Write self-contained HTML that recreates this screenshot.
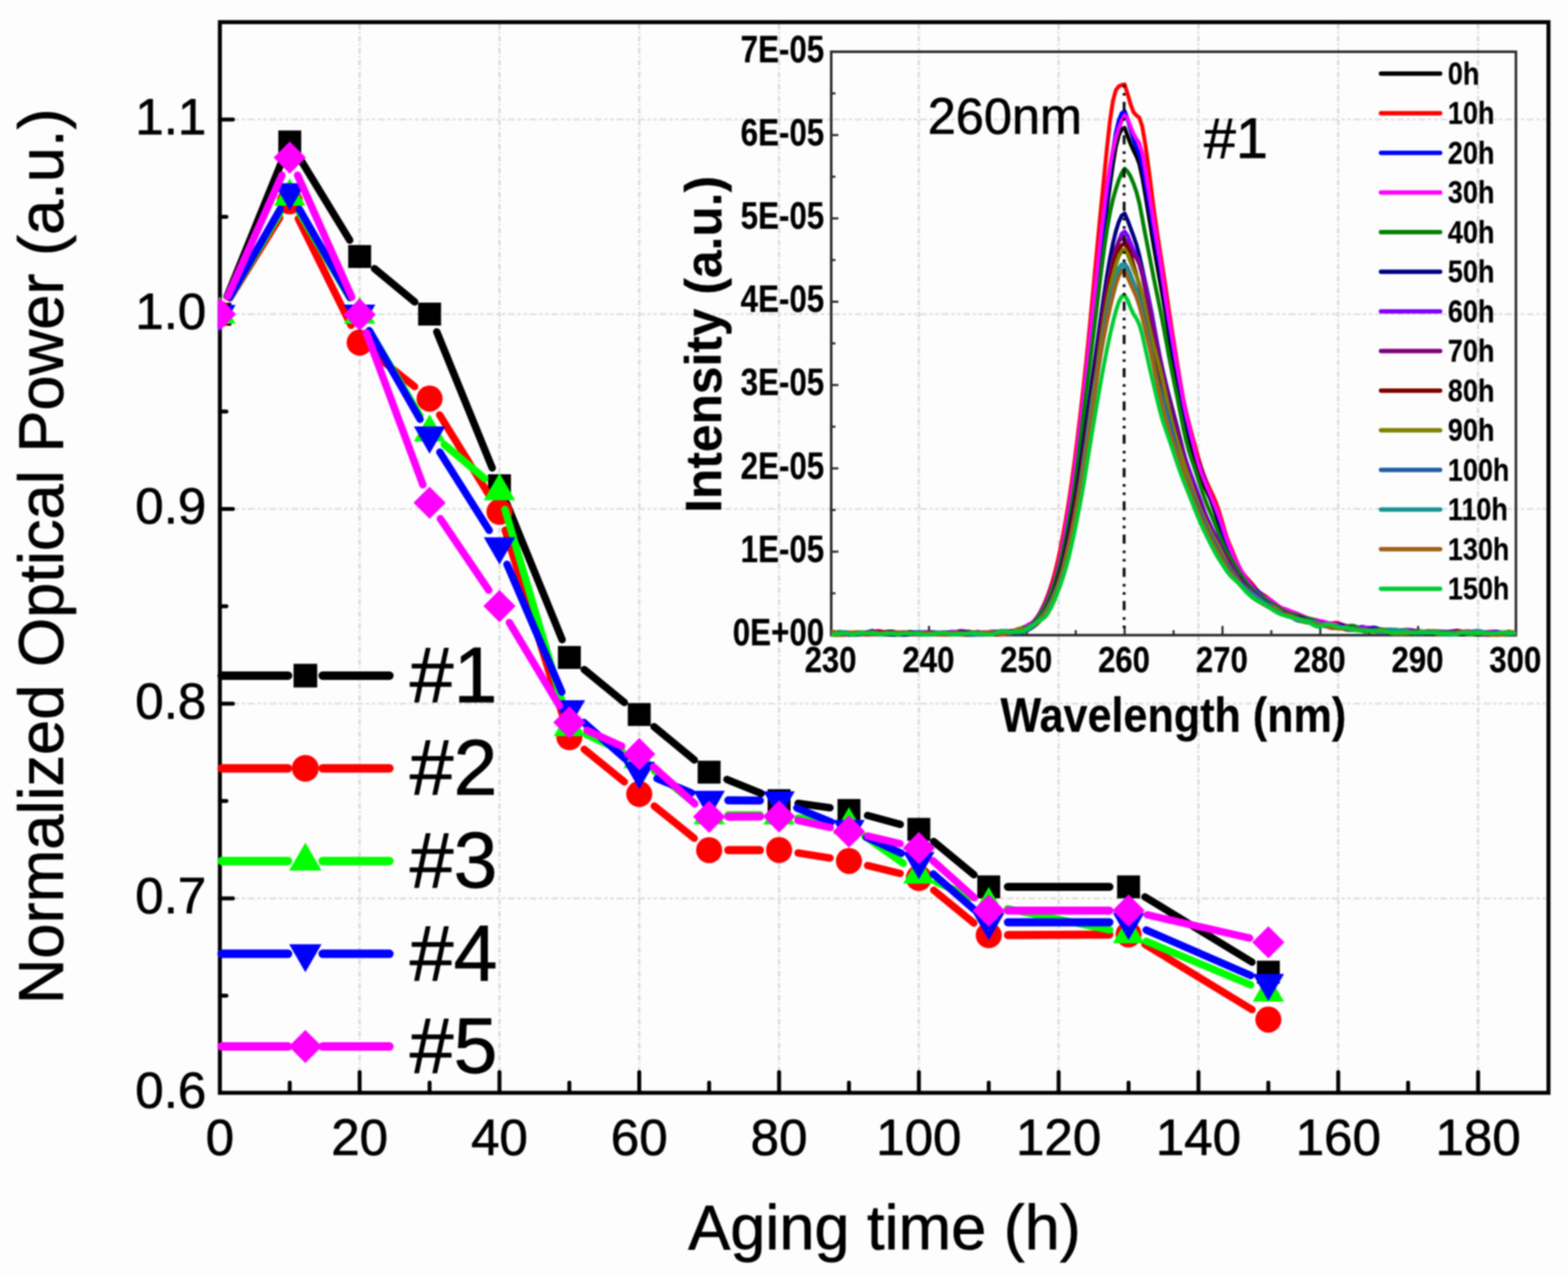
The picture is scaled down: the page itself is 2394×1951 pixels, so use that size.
<!DOCTYPE html>
<html lang="en">
<head>
<meta charset="utf-8">
<title>Normalized Optical Power vs Aging time</title>
<style>
html,body{margin:0;padding:0;background:#fdfdfd;}
body{width:2394px;height:1951px;overflow:hidden;}
svg{display:block;filter:blur(0.85px);}
text{font-kerning:normal;stroke:#000;stroke-width:1px;stroke-linejoin:round;}
.ins text{stroke-width:0.35px;}
.ins text.reg{stroke-width:1px;}
</style>
</head>
<body>
<svg width="2394" height="1951" viewBox="0 0 2394 1951" role="img" aria-label="Normalized optical power versus aging time">
<rect x="0" y="0" width="2394" height="1951" fill="#fdfdfd"/>
<g fill="none">
<line x1="549.1" y1="36.6" x2="549.1" y2="1668.3" stroke="#dadada" stroke-width="3.4" stroke-dasharray="8.5 3.4 2.4 4"/>
<line x1="762.6" y1="36.6" x2="762.6" y2="1668.3" stroke="#dadada" stroke-width="3.4" stroke-dasharray="8.5 3.4 2.4 4"/>
<line x1="976.0" y1="36.6" x2="976.0" y2="1668.3" stroke="#dadada" stroke-width="3.4" stroke-dasharray="8.5 3.4 2.4 4"/>
<line x1="1189.5" y1="36.6" x2="1189.5" y2="1668.3" stroke="#dadada" stroke-width="3.4" stroke-dasharray="8.5 3.4 2.4 4"/>
<line x1="1402.9" y1="36.6" x2="1402.9" y2="1668.3" stroke="#dadada" stroke-width="3.4" stroke-dasharray="8.5 3.4 2.4 4"/>
<line x1="1616.3" y1="36.6" x2="1616.3" y2="1668.3" stroke="#dadada" stroke-width="3.4" stroke-dasharray="8.5 3.4 2.4 4"/>
<line x1="1829.8" y1="36.6" x2="1829.8" y2="1668.3" stroke="#dadada" stroke-width="3.4" stroke-dasharray="8.5 3.4 2.4 4"/>
<line x1="2043.2" y1="36.6" x2="2043.2" y2="1668.3" stroke="#dadada" stroke-width="3.4" stroke-dasharray="8.5 3.4 2.4 4"/>
<line x1="2256.7" y1="36.6" x2="2256.7" y2="1668.3" stroke="#dadada" stroke-width="3.4" stroke-dasharray="8.5 3.4 2.4 4"/>
<line x1="345.2" y1="1371.5" x2="2364.2" y2="1371.5" stroke="#dedede" stroke-width="2.8" stroke-dasharray="10.5 4.2 5 4.2 5 4.2"/>
<line x1="345.2" y1="1074.2" x2="2364.2" y2="1074.2" stroke="#dedede" stroke-width="2.8" stroke-dasharray="10.5 4.2 5 4.2 5 4.2"/>
<line x1="345.2" y1="776.9" x2="2364.2" y2="776.9" stroke="#dedede" stroke-width="2.8" stroke-dasharray="10.5 4.2 5 4.2 5 4.2"/>
<line x1="345.2" y1="479.7" x2="2364.2" y2="479.7" stroke="#dedede" stroke-width="2.8" stroke-dasharray="10.5 4.2 5 4.2 5 4.2"/>
<line x1="345.2" y1="182.4" x2="2364.2" y2="182.4" stroke="#dedede" stroke-width="2.8" stroke-dasharray="10.5 4.2 5 4.2 5 4.2"/>
</g>
<rect x="335.7" y="33.8" width="2028.5" height="1634.5" fill="none" stroke="#000" stroke-width="6.1"/>
<g stroke="#000" stroke-width="6" stroke-linecap="round" fill="none">
<line x1="442.4" y1="1668.3" x2="442.4" y2="1652.8"/>
<line x1="549.1" y1="1668.3" x2="549.1" y2="1636.8"/>
<line x1="655.9" y1="1668.3" x2="655.9" y2="1652.8"/>
<line x1="762.6" y1="1668.3" x2="762.6" y2="1636.8"/>
<line x1="869.3" y1="1668.3" x2="869.3" y2="1652.8"/>
<line x1="976.0" y1="1668.3" x2="976.0" y2="1636.8"/>
<line x1="1082.7" y1="1668.3" x2="1082.7" y2="1652.8"/>
<line x1="1189.5" y1="1668.3" x2="1189.5" y2="1636.8"/>
<line x1="1296.2" y1="1668.3" x2="1296.2" y2="1652.8"/>
<line x1="1402.9" y1="1668.3" x2="1402.9" y2="1636.8"/>
<line x1="1509.6" y1="1668.3" x2="1509.6" y2="1652.8"/>
<line x1="1616.3" y1="1668.3" x2="1616.3" y2="1636.8"/>
<line x1="1723.1" y1="1668.3" x2="1723.1" y2="1652.8"/>
<line x1="1829.8" y1="1668.3" x2="1829.8" y2="1636.8"/>
<line x1="1936.5" y1="1668.3" x2="1936.5" y2="1652.8"/>
<line x1="2043.2" y1="1668.3" x2="2043.2" y2="1636.8"/>
<line x1="2149.9" y1="1668.3" x2="2149.9" y2="1652.8"/>
<line x1="2256.7" y1="1668.3" x2="2256.7" y2="1636.8"/>
<line x1="335.7" y1="1520.1" x2="345.7" y2="1520.1"/>
<line x1="335.7" y1="1371.5" x2="355.7" y2="1371.5"/>
<line x1="335.7" y1="1222.8" x2="345.7" y2="1222.8"/>
<line x1="335.7" y1="1074.2" x2="355.7" y2="1074.2"/>
<line x1="335.7" y1="925.6" x2="345.7" y2="925.6"/>
<line x1="335.7" y1="776.9" x2="355.7" y2="776.9"/>
<line x1="335.7" y1="628.3" x2="345.7" y2="628.3"/>
<line x1="335.7" y1="479.7" x2="355.7" y2="479.7"/>
<line x1="335.7" y1="331.1" x2="345.7" y2="331.1"/>
<line x1="335.7" y1="182.4" x2="355.7" y2="182.4"/>
</g>
<g font-family='"Liberation Sans", Arial, Helvetica, sans-serif' font-size="78" fill="#000">
<text x="335.7" y="1763" text-anchor="middle">0</text>
<text x="549.1" y="1763" text-anchor="middle">20</text>
<text x="762.6" y="1763" text-anchor="middle">40</text>
<text x="976.0" y="1763" text-anchor="middle">60</text>
<text x="1189.5" y="1763" text-anchor="middle">80</text>
<text x="1402.9" y="1763" text-anchor="middle">100</text>
<text x="1616.3" y="1763" text-anchor="middle">120</text>
<text x="1829.8" y="1763" text-anchor="middle">140</text>
<text x="2043.2" y="1763" text-anchor="middle">160</text>
<text x="2256.7" y="1763" text-anchor="middle">180</text>
<text x="315" y="1691.2" text-anchor="end">0.6</text>
<text x="315" y="1394.0" text-anchor="end">0.7</text>
<text x="315" y="1096.7" text-anchor="end">0.8</text>
<text x="315" y="799.4" text-anchor="end">0.9</text>
<text x="315" y="502.2" text-anchor="end">1.0</text>
<text x="315" y="204.9" text-anchor="end">1.1</text>
</g>
<text x="1350.5" y="1907" font-family='"Liberation Sans", Arial, Helvetica, sans-serif' font-size="96.3" text-anchor="middle" fill="#000">Aging time (h)</text>
<text transform="translate(95.9 849.3) rotate(-90)" font-family='"Liberation Sans", Arial, Helvetica, sans-serif' font-size="96.5" text-anchor="middle" fill="#000">Normalized Optical Power (a.u.)</text>
<clipPath id="pc"><rect x="332.4" y="33.8" width="2035.1" height="1634.5"/></clipPath>
<g clip-path="url(#pc)">
<g stroke="#000000" stroke-width="11.3" stroke-linecap="round" fill="none">
<line x1="346.7" y1="452.6" x2="431.4" y2="243.8"/>
<line x1="457.7" y1="241.7" x2="533.9" y2="366.6"/>
<line x1="571.8" y1="410.2" x2="633.2" y2="460.9"/>
<line x1="666.9" y1="506.6" x2="751.5" y2="714.4"/>
<line x1="773.6" y1="768.6" x2="858.3" y2="976.6"/>
<line x1="892.0" y1="1022.2" x2="953.3" y2="1072.3"/>
<line x1="998.6" y1="1109.4" x2="1060.1" y2="1160.2"/>
<line x1="1109.9" y1="1189.9" x2="1162.3" y2="1211.2"/>
<line x1="1218.5" y1="1226.4" x2="1267.2" y2="1233.2"/>
<line x1="1324.5" y1="1244.9" x2="1374.6" y2="1258.5"/>
<line x1="1425.5" y1="1284.7" x2="1487.0" y2="1335.3"/>
<line x1="1538.9" y1="1353.9" x2="1693.8" y2="1353.9" stroke-width="12.4"/>
<line x1="1748.1" y1="1369.2" x2="1911.5" y2="1468.8"/>
</g>
<rect x="318.2" y="462.2" width="35.0" height="35.0" fill="#000000"/>
<rect x="424.9" y="199.2" width="35.0" height="35.0" fill="#000000"/>
<rect x="531.6" y="374.1" width="35.0" height="35.0" fill="#000000"/>
<rect x="638.4" y="462.0" width="35.0" height="35.0" fill="#000000"/>
<rect x="745.1" y="724.0" width="35.0" height="35.0" fill="#000000"/>
<rect x="851.8" y="986.2" width="35.0" height="35.0" fill="#000000"/>
<rect x="958.5" y="1073.3" width="35.0" height="35.0" fill="#000000"/>
<rect x="1065.2" y="1161.3" width="35.0" height="35.0" fill="#000000"/>
<rect x="1172.0" y="1204.8" width="35.0" height="35.0" fill="#000000"/>
<rect x="1278.7" y="1219.8" width="35.0" height="35.0" fill="#000000"/>
<rect x="1385.4" y="1248.6" width="35.0" height="35.0" fill="#000000"/>
<rect x="1492.1" y="1336.4" width="35.0" height="35.0" fill="#000000"/>
<rect x="1705.6" y="1336.4" width="35.0" height="35.0" fill="#000000"/>
<rect x="1919.0" y="1466.6" width="35.0" height="35.0" fill="#000000"/>
<g stroke="#ff0000" stroke-width="11.3" stroke-linecap="round" fill="none">
<line x1="351.1" y1="454.8" x2="427.0" y2="332.3"/>
<line x1="455.4" y1="333.7" x2="536.1" y2="496.7"/>
<line x1="572.0" y1="541.3" x2="633.0" y2="590.2"/>
<line x1="671.2" y1="633.4" x2="747.2" y2="756.5"/>
<line x1="771.3" y1="809.4" x2="860.6" y2="1097.4"/>
<line x1="892.0" y1="1143.9" x2="953.3" y2="1193.7"/>
<line x1="998.9" y1="1230.5" x2="1059.9" y2="1279.6"/>
<line x1="1112.0" y1="1297.8" x2="1160.2" y2="1297.8" stroke-width="12.4"/>
<line x1="1218.4" y1="1302.2" x2="1267.2" y2="1309.8"/>
<line x1="1324.6" y1="1321.3" x2="1374.4" y2="1333.4"/>
<line x1="1425.6" y1="1359.0" x2="1486.9" y2="1409.1"/>
<line x1="1538.9" y1="1427.5" x2="1693.8" y2="1426.7" stroke-width="12.4"/>
<line x1="1748.1" y1="1441.7" x2="1911.5" y2="1541.3"/>
</g>
<circle cx="335.7" cy="479.7" r="19.9" fill="#ff0000"/>
<circle cx="442.4" cy="307.4" r="19.9" fill="#ff0000"/>
<circle cx="549.1" cy="523.0" r="19.9" fill="#ff0000"/>
<circle cx="655.9" cy="608.5" r="19.9" fill="#ff0000"/>
<circle cx="762.6" cy="781.4" r="19.9" fill="#ff0000"/>
<circle cx="869.3" cy="1125.4" r="19.9" fill="#ff0000"/>
<circle cx="976.0" cy="1212.2" r="19.9" fill="#ff0000"/>
<circle cx="1082.7" cy="1297.9" r="19.9" fill="#ff0000"/>
<circle cx="1189.5" cy="1297.7" r="19.9" fill="#ff0000"/>
<circle cx="1296.2" cy="1314.3" r="19.9" fill="#ff0000"/>
<circle cx="1402.9" cy="1340.4" r="19.9" fill="#ff0000"/>
<circle cx="1509.6" cy="1427.7" r="19.9" fill="#ff0000"/>
<circle cx="1723.1" cy="1426.5" r="19.9" fill="#ff0000"/>
<circle cx="1936.5" cy="1556.5" r="19.9" fill="#ff0000"/>
<g stroke="#00ff00" stroke-width="11.3" stroke-linecap="round" fill="none">
<line x1="350.6" y1="454.5" x2="427.5" y2="324.9"/>
<line x1="457.3" y1="324.9" x2="534.2" y2="454.8"/>
<line x1="564.1" y1="505.2" x2="640.9" y2="634.5"/>
<line x1="678.3" y1="678.6" x2="740.2" y2="730.6"/>
<line x1="770.9" y1="777.6" x2="861.0" y2="1081.4"/>
<line x1="895.9" y1="1121.7" x2="949.4" y2="1146.3"/>
<line x1="998.9" y1="1176.9" x2="1059.9" y2="1225.9"/>
<line x1="1112.0" y1="1244.4" x2="1160.2" y2="1244.4" stroke-width="12.4"/>
<line x1="1218.5" y1="1248.6" x2="1267.2" y2="1255.4"/>
<line x1="1320.1" y1="1276.4" x2="1379.0" y2="1317.9"/>
<line x1="1429.8" y1="1346.5" x2="1482.8" y2="1369.7"/>
<line x1="1538.3" y1="1387.3" x2="1694.4" y2="1419.7"/>
<line x1="1750.1" y1="1436.9" x2="1909.5" y2="1503.5"/>
</g>
<polygon points="335.7,452.4 359.7,494.0 311.7,494.0" fill="#00ff00"/>
<polygon points="442.4,272.4 466.4,314.0 418.4,314.0" fill="#00ff00"/>
<polygon points="549.1,452.7 573.1,494.3 525.1,494.3" fill="#00ff00"/>
<polygon points="655.9,632.4 679.9,674.0 631.9,674.0" fill="#00ff00"/>
<polygon points="762.6,722.2 786.6,763.8 738.6,763.8" fill="#00ff00"/>
<polygon points="869.3,1082.2 893.3,1123.8 845.3,1123.8" fill="#00ff00"/>
<polygon points="976.0,1131.2 1000.0,1172.8 952.0,1172.8" fill="#00ff00"/>
<polygon points="1082.7,1217.0 1106.7,1258.6 1058.7,1258.6" fill="#00ff00"/>
<polygon points="1189.5,1217.2 1213.5,1258.8 1165.5,1258.8" fill="#00ff00"/>
<polygon points="1296.2,1232.2 1320.2,1273.8 1272.2,1273.8" fill="#00ff00"/>
<polygon points="1402.9,1307.5 1426.9,1349.1 1378.9,1349.1" fill="#00ff00"/>
<polygon points="1509.6,1354.1 1533.6,1395.7 1485.6,1395.7" fill="#00ff00"/>
<polygon points="1723.1,1398.3 1747.1,1439.9 1699.1,1439.9" fill="#00ff00"/>
<polygon points="1936.5,1487.5 1960.5,1529.1 1912.5,1529.1" fill="#00ff00"/>
<g stroke="#0000ff" stroke-width="11.3" stroke-linecap="round" fill="none">
<line x1="350.3" y1="454.3" x2="427.8" y2="319.4"/>
<line x1="457.0" y1="319.4" x2="534.5" y2="453.9"/>
<line x1="563.7" y1="504.7" x2="641.3" y2="640.0"/>
<line x1="671.5" y1="690.2" x2="746.9" y2="809.7"/>
<line x1="774.1" y1="861.4" x2="857.8" y2="1056.5"/>
<line x1="891.3" y1="1102.8" x2="954.0" y2="1158.0"/>
<line x1="1003.1" y1="1188.6" x2="1055.7" y2="1210.4"/>
<line x1="1112.0" y1="1221.8" x2="1160.2" y2="1222.1" stroke-width="12.4"/>
<line x1="1216.6" y1="1233.4" x2="1269.1" y2="1254.9"/>
<line x1="1322.8" y1="1278.2" x2="1376.3" y2="1302.7"/>
<line x1="1425.0" y1="1334.2" x2="1487.5" y2="1388.7"/>
<line x1="1538.9" y1="1408.0" x2="1693.8" y2="1408.0" stroke-width="12.4"/>
<line x1="1749.9" y1="1419.7" x2="1909.6" y2="1489.3"/>
</g>
<polygon points="335.7,507.0 359.7,465.4 311.7,465.4" fill="#0000ff"/>
<polygon points="442.4,321.3 466.4,279.7 418.4,279.7" fill="#0000ff"/>
<polygon points="549.1,506.6 573.1,465.0 525.1,465.0" fill="#0000ff"/>
<polygon points="655.9,692.7 679.9,651.1 631.9,651.1" fill="#0000ff"/>
<polygon points="762.6,861.8 786.6,820.2 738.6,820.2" fill="#0000ff"/>
<polygon points="869.3,1110.7 893.3,1069.1 845.3,1069.1" fill="#0000ff"/>
<polygon points="976.0,1204.7 1000.0,1163.1 952.0,1163.1" fill="#0000ff"/>
<polygon points="1082.7,1248.9 1106.7,1207.3 1058.7,1207.3" fill="#0000ff"/>
<polygon points="1189.5,1249.6 1213.5,1208.0 1165.5,1208.0" fill="#0000ff"/>
<polygon points="1296.2,1293.3 1320.2,1251.7 1272.2,1251.7" fill="#0000ff"/>
<polygon points="1402.9,1342.2 1426.9,1300.6 1378.9,1300.6" fill="#0000ff"/>
<polygon points="1509.6,1435.3 1533.6,1393.7 1485.6,1393.7" fill="#0000ff"/>
<polygon points="1723.1,1435.3 1747.1,1393.7 1699.1,1393.7" fill="#0000ff"/>
<polygon points="1936.5,1528.3 1960.5,1486.7 1912.5,1486.7" fill="#0000ff"/>
<g stroke="#ff00ff" stroke-width="11.3" stroke-linecap="round" fill="none">
<line x1="347.6" y1="452.9" x2="430.5" y2="267.4"/>
<line x1="454.3" y1="267.4" x2="537.2" y2="453.5"/>
<line x1="559.3" y1="507.8" x2="645.7" y2="740.0"/>
<line x1="672.3" y1="791.8" x2="746.2" y2="901.0"/>
<line x1="777.7" y1="950.4" x2="854.2" y2="1077.7"/>
<line x1="896.0" y1="1114.9" x2="949.3" y2="1139.1"/>
<line x1="997.8" y1="1170.7" x2="1060.9" y2="1227.3"/>
<line x1="1112.0" y1="1246.7" x2="1160.2" y2="1246.4" stroke-width="12.4"/>
<line x1="1218.1" y1="1252.5" x2="1267.5" y2="1263.2"/>
<line x1="1324.7" y1="1276.2" x2="1374.4" y2="1287.9"/>
<line x1="1424.7" y1="1314.2" x2="1487.8" y2="1370.6"/>
<line x1="1538.9" y1="1390.1" x2="1693.8" y2="1390.1" stroke-width="12.4"/>
<line x1="1751.6" y1="1396.6" x2="1907.9" y2="1432.0"/>
</g>
<polygon points="335.7,455.1 360.3,479.7 335.7,504.3 311.1,479.7" fill="#ff00ff"/>
<polygon points="442.4,216.0 467.0,240.6 442.4,265.2 417.8,240.6" fill="#ff00ff"/>
<polygon points="549.1,455.7 573.7,480.3 549.1,504.9 524.5,480.3" fill="#ff00ff"/>
<polygon points="655.9,742.9 680.5,767.5 655.9,792.1 631.3,767.5" fill="#ff00ff"/>
<polygon points="762.6,900.7 787.2,925.3 762.6,949.9 738.0,925.3" fill="#ff00ff"/>
<polygon points="869.3,1078.2 893.9,1102.8 869.3,1127.4 844.7,1102.8" fill="#ff00ff"/>
<polygon points="976.0,1126.6 1000.6,1151.2 976.0,1175.8 951.4,1151.2" fill="#ff00ff"/>
<polygon points="1082.7,1222.2 1107.3,1246.8 1082.7,1271.4 1058.1,1246.8" fill="#ff00ff"/>
<polygon points="1189.5,1221.7 1214.1,1246.3 1189.5,1270.9 1164.9,1246.3" fill="#ff00ff"/>
<polygon points="1296.2,1244.8 1320.8,1269.4 1296.2,1294.0 1271.6,1269.4" fill="#ff00ff"/>
<polygon points="1402.9,1270.1 1427.5,1294.7 1402.9,1319.3 1378.3,1294.7" fill="#ff00ff"/>
<polygon points="1509.6,1365.5 1534.2,1390.1 1509.6,1414.7 1485.0,1390.1" fill="#ff00ff"/>
<polygon points="1723.1,1365.5 1747.7,1390.1 1723.1,1414.7 1698.5,1390.1" fill="#ff00ff"/>
<polygon points="1936.5,1413.9 1961.1,1438.5 1936.5,1463.1 1911.9,1438.5" fill="#ff00ff"/>
</g>
<g font-family='"Liberation Sans", Arial, Helvetica, sans-serif' font-size="120.5" fill="#000">
<g stroke="#000000" stroke-width="13" stroke-linecap="round"><line x1="338.5" y1="1031.4" x2="439.7" y2="1031.4"/><line x1="492.7" y1="1031.4" x2="594.5" y2="1031.4"/></g>
<rect x="448.2" y="1013.4" width="36.1" height="36.1" fill="#000000"/>
<text x="625.5" y="1071.8">#1</text>
<g stroke="#ff0000" stroke-width="13" stroke-linecap="round"><line x1="338.5" y1="1172.9" x2="439.7" y2="1172.9"/><line x1="492.7" y1="1172.9" x2="594.5" y2="1172.9"/></g>
<circle cx="466.2" cy="1172.9" r="20.5" fill="#ff0000"/>
<text x="625.5" y="1213.3">#2</text>
<g stroke="#00ff00" stroke-width="13" stroke-linecap="round"><line x1="338.5" y1="1314.4" x2="439.7" y2="1314.4"/><line x1="492.7" y1="1314.4" x2="594.5" y2="1314.4"/></g>
<polygon points="466.2,1286.3 490.9,1329.1 441.5,1329.1" fill="#00ff00"/>
<text x="625.5" y="1354.8">#3</text>
<g stroke="#0000ff" stroke-width="13" stroke-linecap="round"><line x1="338.5" y1="1456.1" x2="439.7" y2="1456.1"/><line x1="492.7" y1="1456.1" x2="594.5" y2="1456.1"/></g>
<polygon points="466.2,1484.2 490.9,1441.4 441.5,1441.4" fill="#0000ff"/>
<text x="625.5" y="1496.5">#4</text>
<g stroke="#ff00ff" stroke-width="13" stroke-linecap="round"><line x1="338.5" y1="1597.6" x2="439.7" y2="1597.6"/><line x1="492.7" y1="1597.6" x2="594.5" y2="1597.6"/></g>
<polygon points="466.2,1572.3 491.5,1597.6 466.2,1622.9 440.9,1597.6" fill="#ff00ff"/>
<text x="625.5" y="1638.0">#5</text>
</g>
<rect x="1269.1" y="79.0" width="1045.4" height="890.6" fill="none" stroke="#2b2b2b" stroke-width="3.9"/>
<g stroke="#2b2b2b" stroke-width="3.2" fill="none">
<line x1="1269.1" y1="905.8" x2="1275.6" y2="905.8"/>
<line x1="1269.1" y1="842.2" x2="1280.1" y2="842.2"/>
<line x1="1269.1" y1="778.6" x2="1275.6" y2="778.6"/>
<line x1="1269.1" y1="715.0" x2="1280.1" y2="715.0"/>
<line x1="1269.1" y1="651.4" x2="1275.6" y2="651.4"/>
<line x1="1269.1" y1="587.8" x2="1280.1" y2="587.8"/>
<line x1="1269.1" y1="524.2" x2="1275.6" y2="524.2"/>
<line x1="1269.1" y1="460.6" x2="1280.1" y2="460.6"/>
<line x1="1269.1" y1="397.0" x2="1275.6" y2="397.0"/>
<line x1="1269.1" y1="333.4" x2="1280.1" y2="333.4"/>
<line x1="1269.1" y1="269.8" x2="1275.6" y2="269.8"/>
<line x1="1269.1" y1="206.2" x2="1280.1" y2="206.2"/>
<line x1="1269.1" y1="142.6" x2="1275.6" y2="142.6"/>
<line x1="1343.8" y1="969.6" x2="1343.8" y2="962.1"/>
<line x1="1418.4" y1="969.6" x2="1418.4" y2="955.6"/>
<line x1="1493.1" y1="969.6" x2="1493.1" y2="962.1"/>
<line x1="1567.8" y1="969.6" x2="1567.8" y2="955.6"/>
<line x1="1642.5" y1="969.6" x2="1642.5" y2="962.1"/>
<line x1="1717.1" y1="969.6" x2="1717.1" y2="955.6"/>
<line x1="1791.8" y1="969.6" x2="1791.8" y2="962.1"/>
<line x1="1866.5" y1="969.6" x2="1866.5" y2="955.6"/>
<line x1="1941.1" y1="969.6" x2="1941.1" y2="962.1"/>
<line x1="2015.8" y1="969.6" x2="2015.8" y2="955.6"/>
<line x1="2090.5" y1="969.6" x2="2090.5" y2="962.1"/>
<line x1="2165.2" y1="969.6" x2="2165.2" y2="955.6"/>
<line x1="2239.8" y1="969.6" x2="2239.8" y2="962.1"/>
</g>
<clipPath id="ic"><rect x="1269.1" y="79.0" width="1045.4" height="893.6"/></clipPath>
<g clip-path="url(#ic)" fill="none" stroke-width="6" stroke-linejoin="round" stroke-linecap="round">
<polyline stroke="#000000" points="1269.1,967.8 1273.6,969.4 1278.1,969.4 1282.5,969.4 1287.0,969.4 1291.5,969.1 1296.0,967.0 1300.5,967.0 1304.9,968.0 1309.4,967.7 1313.9,966.6 1318.4,966.1 1322.9,966.5 1327.3,966.6 1331.8,966.2 1336.3,965.7 1340.8,965.9 1345.3,966.7 1349.7,967.3 1354.2,967.3 1358.7,966.9 1363.2,967.1 1367.7,967.5 1372.1,967.9 1376.6,967.8 1381.1,966.6 1385.6,965.3 1390.1,964.8 1394.5,965.3 1399.0,966.5 1403.5,967.8 1408.0,968.6 1412.5,968.3 1416.9,967.5 1421.4,967.6 1425.9,968.0 1430.4,967.7 1434.9,966.6 1439.4,965.7 1443.8,965.4 1448.3,965.5 1452.8,965.9 1457.3,967.0 1461.8,968.1 1466.2,967.6 1470.7,965.9 1475.2,964.5 1479.7,964.5 1484.2,965.3 1488.6,966.0 1493.1,966.6 1497.6,967.0 1502.1,966.7 1506.6,965.7 1511.0,964.9 1515.5,965.2 1520.0,966.3 1524.5,966.8 1529.0,965.9 1533.4,964.5 1537.9,964.0 1542.4,964.5 1546.9,965.0 1551.4,964.3 1555.8,962.4 1560.3,960.4 1564.8,958.6 1569.3,956.5 1573.8,953.6 1578.2,950.1 1582.7,945.8 1587.2,939.8 1591.7,932.0 1596.2,922.8 1600.6,912.0 1605.1,899.3 1609.6,885.4 1614.1,870.2 1618.6,852.7 1623.0,832.3 1627.5,809.0 1632.0,782.0 1636.5,751.2 1641.0,718.0 1645.4,683.8 1649.9,648.4 1654.4,610.7 1658.9,571.1 1663.4,530.4 1667.8,489.9 1672.3,450.7 1676.8,414.1 1681.3,380.1 1685.8,347.5 1690.2,315.4 1694.7,282.7 1699.2,250.6 1703.7,223.8 1708.2,206.2 1712.6,197.1 1717.1,195.0 1721.6,207.4 1726.1,219.4 1730.6,229.4 1735.0,238.3 1739.5,250.2 1744.0,270.5 1748.5,296.6 1753.0,323.4 1757.5,350.7 1761.9,377.5 1766.4,403.1 1770.9,428.3 1775.4,453.8 1779.9,480.4 1784.3,508.1 1788.8,536.8 1793.3,564.6 1797.8,590.1 1802.3,614.1 1806.7,636.2 1811.2,654.7 1815.7,670.6 1820.2,685.9 1824.7,701.0 1829.1,715.7 1833.6,729.3 1838.1,740.5 1842.6,750.1 1847.1,759.9 1851.5,771.4 1856.0,784.4 1860.5,797.6 1865.0,810.3 1869.5,822.4 1873.9,833.8 1878.4,843.9 1882.9,853.0 1887.4,861.0 1891.9,868.3 1896.3,875.3 1900.8,881.9 1905.3,887.8 1909.8,893.5 1914.3,899.1 1918.7,904.7 1923.2,909.3 1927.7,912.6 1932.2,915.0 1936.7,917.3 1941.1,920.2 1945.6,923.7 1950.1,927.2 1954.6,929.7 1959.1,931.2 1963.5,932.5 1968.0,934.1 1972.5,936.1 1977.0,938.8 1981.5,941.5 1985.9,942.9 1990.4,943.6 1994.9,944.8 1999.4,946.0 2003.9,946.2 2008.3,946.3 2012.8,947.7 2017.3,950.2 2021.8,951.9 2026.3,952.1 2030.7,951.7 2035.2,952.0 2039.7,953.4 2044.2,955.4 2048.7,957.4 2053.2,958.4 2057.6,958.4 2062.1,958.2 2066.6,958.0 2071.1,958.4 2075.6,959.2 2080.0,960.4 2084.5,961.3 2089.0,961.4 2093.5,961.6 2098.0,962.2 2102.4,962.8 2106.9,963.4 2111.4,963.9 2115.9,963.7 2120.4,963.1 2124.8,963.0 2129.3,963.7 2133.8,964.5 2138.3,964.6 2142.8,964.3 2147.2,963.7 2151.7,963.1 2156.2,963.3 2160.7,963.8 2165.2,964.6 2169.6,965.1 2174.1,965.1 2178.6,964.9 2183.1,964.5 2187.6,964.8 2192.0,965.7 2196.5,966.3 2201.0,966.0 2205.5,965.3 2210.0,965.4 2214.4,966.3 2218.9,967.2 2223.4,967.5 2227.9,967.7 2232.4,968.2 2236.8,968.1 2241.3,967.3 2245.8,967.0 2250.3,967.9 2254.8,968.9 2259.2,968.9 2263.7,968.2 2268.2,967.9 2272.7,967.7 2277.2,967.5 2281.6,967.3 2286.1,967.1 2290.6,967.7 2295.1,968.8 2299.6,969.3 2304.0,968.4 2308.5,966.8 2313.0,966.1"/>
<polyline stroke="#ff0000" points="1269.1,969.4 1273.6,969.1 1278.1,968.6 1282.5,968.5 1287.0,968.7 1291.5,968.7 1296.0,968.1 1300.5,967.6 1304.9,967.3 1309.4,967.3 1313.9,967.6 1318.4,968.1 1322.9,968.8 1327.3,968.4 1331.8,966.5 1336.3,964.2 1340.8,963.1 1345.3,963.8 1349.7,965.2 1354.2,965.8 1358.7,966.0 1363.2,966.2 1367.7,966.8 1372.1,967.2 1376.6,967.3 1381.1,967.5 1385.6,967.9 1390.1,967.7 1394.5,966.5 1399.0,965.5 1403.5,965.6 1408.0,966.1 1412.5,966.4 1416.9,966.7 1421.4,967.2 1425.9,966.9 1430.4,966.3 1434.9,965.7 1439.4,965.6 1443.8,965.8 1448.3,966.5 1452.8,966.9 1457.3,966.9 1461.8,967.3 1466.2,968.2 1470.7,968.5 1475.2,967.6 1479.7,966.1 1484.2,965.5 1488.6,966.0 1493.1,966.7 1497.6,967.2 1502.1,967.2 1506.6,967.1 1511.0,967.7 1515.5,968.5 1520.0,969.1 1524.5,969.1 1529.0,968.2 1533.4,966.9 1537.9,965.1 1542.4,963.3 1546.9,962.7 1551.4,963.0 1555.8,963.2 1560.3,962.2 1564.8,959.8 1569.3,956.4 1573.8,952.8 1578.2,948.6 1582.7,943.3 1587.2,936.1 1591.7,927.5 1596.2,917.7 1600.6,906.5 1605.1,893.3 1609.6,877.9 1614.1,860.1 1618.6,839.6 1623.0,816.9 1627.5,792.0 1632.0,764.7 1636.5,734.5 1641.0,701.7 1645.4,666.2 1649.9,628.5 1654.4,589.0 1658.9,547.4 1663.4,502.9 1667.8,456.6 1672.3,408.9 1676.8,360.9 1681.3,314.4 1685.8,269.3 1690.2,225.1 1694.7,184.6 1699.2,154.0 1703.7,137.5 1708.2,131.8 1712.6,129.8 1717.1,128.9 1721.6,143.5 1726.1,159.1 1730.6,171.0 1735.0,176.2 1739.5,179.6 1744.0,193.3 1748.5,219.4 1753.0,251.6 1757.5,287.0 1761.9,321.7 1766.4,353.3 1770.9,382.3 1775.4,411.1 1779.9,440.8 1784.3,471.1 1788.8,500.7 1793.3,529.3 1797.8,557.0 1802.3,584.1 1806.7,609.1 1811.2,629.7 1815.7,647.8 1820.2,665.0 1824.7,681.4 1829.1,697.2 1833.6,712.1 1838.1,725.4 1842.6,736.6 1847.1,746.4 1851.5,755.8 1856.0,766.1 1860.5,778.6 1865.0,793.3 1869.5,809.0 1873.9,822.8 1878.4,833.7 1882.9,844.4 1887.4,855.3 1891.9,865.2 1896.3,873.1 1900.8,879.1 1905.3,884.3 1909.8,889.3 1914.3,894.5 1918.7,900.0 1923.2,904.5 1927.7,907.5 1932.2,910.1 1936.7,913.6 1941.1,917.4 1945.6,920.6 1950.1,923.8 1954.6,927.0 1959.1,929.5 1963.5,931.2 1968.0,933.0 1972.5,935.1 1977.0,937.1 1981.5,938.9 1985.9,940.7 1990.4,942.6 1994.9,944.1 1999.4,945.1 2003.9,946.1 2008.3,947.4 2012.8,948.6 2017.3,949.8 2021.8,951.1 2026.3,952.3 2030.7,952.3 2035.2,951.2 2039.7,950.6 2044.2,951.5 2048.7,953.4 2053.2,954.9 2057.6,955.5 2062.1,956.0 2066.6,956.8 2071.1,957.5 2075.6,957.9 2080.0,957.7 2084.5,958.1 2089.0,959.2 2093.5,960.0 2098.0,960.2 2102.4,960.1 2106.9,960.4 2111.4,961.6 2115.9,962.9 2120.4,963.2 2124.8,962.4 2129.3,961.6 2133.8,961.7 2138.3,962.1 2142.8,962.7 2147.2,963.6 2151.7,964.2 2156.2,964.1 2160.7,963.9 2165.2,964.1 2169.6,964.7 2174.1,965.1 2178.6,965.0 2183.1,965.0 2187.6,965.4 2192.0,966.0 2196.5,965.5 2201.0,964.4 2205.5,964.1 2210.0,964.5 2214.4,964.9 2218.9,965.2 2223.4,965.6 2227.9,965.9 2232.4,966.3 2236.8,966.7 2241.3,966.8 2245.8,966.6 2250.3,966.7 2254.8,966.8 2259.2,966.4 2263.7,965.6 2268.2,965.0 2272.7,964.6 2277.2,964.2 2281.6,964.0 2286.1,964.6 2290.6,965.5 2295.1,966.0 2299.6,965.2 2304.0,964.7 2308.5,965.8 2313.0,967.5"/>
<polyline stroke="#0000ff" points="1269.1,967.1 1273.6,966.3 1278.1,965.5 1282.5,965.6 1287.0,966.8 1291.5,968.4 1296.0,969.4 1300.5,969.1 1304.9,968.0 1309.4,967.0 1313.9,966.9 1318.4,967.0 1322.9,966.5 1327.3,966.2 1331.8,966.7 1336.3,967.5 1340.8,967.3 1345.3,966.4 1349.7,965.4 1354.2,964.7 1358.7,964.3 1363.2,964.2 1367.7,964.9 1372.1,966.3 1376.6,967.4 1381.1,967.6 1385.6,967.0 1390.1,966.5 1394.5,966.7 1399.0,966.9 1403.5,966.6 1408.0,966.0 1412.5,965.4 1416.9,965.3 1421.4,965.3 1425.9,965.8 1430.4,967.3 1434.9,968.8 1439.4,969.1 1443.8,968.5 1448.3,967.6 1452.8,966.8 1457.3,966.5 1461.8,966.8 1466.2,966.7 1470.7,966.5 1475.2,966.9 1479.7,967.4 1484.2,967.3 1488.6,966.9 1493.1,966.7 1497.6,967.0 1502.1,967.3 1506.6,967.3 1511.0,966.8 1515.5,966.4 1520.0,966.3 1524.5,965.8 1529.0,964.6 1533.4,963.8 1537.9,963.6 1542.4,963.7 1546.9,963.5 1551.4,962.5 1555.8,960.8 1560.3,958.7 1564.8,956.9 1569.3,955.3 1573.8,953.1 1578.2,949.2 1582.7,943.5 1587.2,936.8 1591.7,929.4 1596.2,920.8 1600.6,910.6 1605.1,899.2 1609.6,886.8 1614.1,872.2 1618.6,853.6 1623.0,830.6 1627.5,805.0 1632.0,777.9 1636.5,749.3 1641.0,718.1 1645.4,684.1 1649.9,647.5 1654.4,608.7 1658.9,567.9 1663.4,526.0 1667.8,484.7 1672.3,445.2 1676.8,408.2 1681.3,372.1 1685.8,335.5 1690.2,298.8 1694.7,263.2 1699.2,230.1 1703.7,202.6 1708.2,183.7 1712.6,173.0 1717.1,169.6 1721.6,182.0 1726.1,198.3 1730.6,213.3 1735.0,225.5 1739.5,236.9 1744.0,254.7 1748.5,279.7 1753.0,305.3 1757.5,331.5 1761.9,357.3 1766.4,381.9 1770.9,406.7 1775.4,433.9 1779.9,463.3 1784.3,493.1 1788.8,521.0 1793.3,546.2 1797.8,569.8 1802.3,593.6 1806.7,618.1 1811.2,639.8 1815.7,658.4 1820.2,675.3 1824.7,690.1 1829.1,703.7 1833.6,717.0 1838.1,729.7 1842.6,741.7 1847.1,753.7 1851.5,765.4 1856.0,777.3 1860.5,790.3 1865.0,804.4 1869.5,818.2 1873.9,830.5 1878.4,841.2 1882.9,851.6 1887.4,861.3 1891.9,869.4 1896.3,875.6 1900.8,880.9 1905.3,886.6 1909.8,892.4 1914.3,897.4 1918.7,901.4 1923.2,905.1 1927.7,908.7 1932.2,912.5 1936.7,916.7 1941.1,920.8 1945.6,923.6 1950.1,925.7 1954.6,928.2 1959.1,931.1 1963.5,933.3 1968.0,934.6 1972.5,936.0 1977.0,937.6 1981.5,939.4 1985.9,941.6 1990.4,943.8 1994.9,945.3 1999.4,946.5 2003.9,948.2 2008.3,949.5 2012.8,949.5 2017.3,949.4 2021.8,950.1 2026.3,951.3 2030.7,952.3 2035.2,952.7 2039.7,953.0 2044.2,953.3 2048.7,954.2 2053.2,955.9 2057.6,957.3 2062.1,958.5 2066.6,959.3 2071.1,959.0 2075.6,957.7 2080.0,956.9 2084.5,957.7 2089.0,958.5 2093.5,958.3 2098.0,958.0 2102.4,958.9 2106.9,960.9 2111.4,962.7 2115.9,964.2 2120.4,965.0 2124.8,965.1 2129.3,964.5 2133.8,964.0 2138.3,963.5 2142.8,962.4 2147.2,961.5 2151.7,961.6 2156.2,962.4 2160.7,963.5 2165.2,964.3 2169.6,964.7 2174.1,965.1 2178.6,965.7 2183.1,966.4 2187.6,966.1 2192.0,965.1 2196.5,964.6 2201.0,965.0 2205.5,966.1 2210.0,967.1 2214.4,967.4 2218.9,966.2 2223.4,964.2 2227.9,963.4 2232.4,964.3 2236.8,965.6 2241.3,966.0 2245.8,965.7 2250.3,965.5 2254.8,965.5 2259.2,965.7 2263.7,966.2 2268.2,967.1 2272.7,968.1 2277.2,968.8 2281.6,968.9 2286.1,968.6 2290.6,968.3 2295.1,967.7 2299.6,967.3 2304.0,967.6 2308.5,968.3 2313.0,968.6"/>
<polyline stroke="#ff00ff" points="1269.1,967.3 1273.6,966.4 1278.1,966.8 1282.5,968.0 1287.0,968.6 1291.5,968.6 1296.0,968.3 1300.5,967.9 1304.9,967.5 1309.4,967.4 1313.9,967.1 1318.4,966.4 1322.9,965.4 1327.3,965.0 1331.8,965.1 1336.3,964.8 1340.8,964.6 1345.3,964.6 1349.7,964.8 1354.2,965.2 1358.7,965.9 1363.2,967.0 1367.7,967.6 1372.1,967.5 1376.6,967.3 1381.1,967.1 1385.6,966.7 1390.1,966.7 1394.5,967.7 1399.0,968.5 1403.5,968.1 1408.0,967.3 1412.5,967.6 1416.9,968.6 1421.4,968.8 1425.9,968.1 1430.4,967.4 1434.9,967.5 1439.4,967.7 1443.8,967.3 1448.3,966.7 1452.8,966.9 1457.3,967.1 1461.8,966.5 1466.2,966.2 1470.7,966.8 1475.2,968.0 1479.7,968.2 1484.2,966.9 1488.6,965.5 1493.1,965.6 1497.6,966.9 1502.1,967.4 1506.6,966.1 1511.0,964.4 1515.5,964.2 1520.0,965.2 1524.5,966.5 1529.0,967.8 1533.4,968.0 1537.9,967.1 1542.4,965.2 1546.9,962.9 1551.4,961.5 1555.8,960.9 1560.3,959.6 1564.8,956.9 1569.3,954.0 1573.8,951.8 1578.2,948.6 1582.7,943.5 1587.2,937.2 1591.7,930.4 1596.2,922.2 1600.6,911.9 1605.1,900.3 1609.6,886.9 1614.1,870.6 1618.6,851.0 1623.0,828.4 1627.5,803.3 1632.0,776.5 1636.5,747.7 1641.0,715.9 1645.4,681.0 1649.9,643.2 1654.4,603.6 1658.9,563.3 1663.4,522.2 1667.8,480.4 1672.3,438.4 1676.8,396.0 1681.3,354.9 1685.8,317.0 1690.2,282.7 1694.7,253.3 1699.2,229.0 1703.7,209.9 1708.2,195.6 1712.6,184.3 1717.1,175.9 1721.6,181.5 1726.1,193.3 1730.6,204.4 1735.0,211.9 1739.5,218.8 1744.0,233.3 1748.5,258.2 1753.0,285.9 1757.5,314.3 1761.9,341.9 1766.4,368.6 1770.9,396.2 1775.4,426.2 1779.9,456.5 1784.3,484.7 1788.8,511.1 1793.3,537.4 1797.8,563.2 1802.3,588.4 1806.7,612.6 1811.2,633.5 1815.7,652.1 1820.2,670.7 1824.7,689.4 1829.1,706.2 1833.6,720.3 1838.1,732.2 1842.6,743.0 1847.1,753.4 1851.5,764.0 1856.0,774.7 1860.5,786.3 1865.0,799.3 1869.5,813.1 1873.9,826.1 1878.4,837.4 1882.9,847.5 1887.4,857.0 1891.9,866.1 1896.3,874.1 1900.8,880.9 1905.3,887.2 1909.8,893.6 1914.3,899.1 1918.7,903.3 1923.2,906.8 1927.7,909.8 1932.2,912.3 1936.7,914.2 1941.1,916.5 1945.6,920.0 1950.1,924.0 1954.6,927.0 1959.1,928.8 1963.5,930.1 1968.0,932.0 1972.5,933.8 1977.0,935.4 1981.5,937.0 1985.9,938.9 1990.4,940.9 1994.9,942.8 1999.4,944.3 2003.9,945.5 2008.3,946.5 2012.8,947.4 2017.3,948.2 2021.8,949.2 2026.3,950.7 2030.7,951.9 2035.2,952.4 2039.7,953.2 2044.2,955.0 2048.7,957.1 2053.2,957.6 2057.6,956.4 2062.1,955.6 2066.6,956.0 2071.1,957.5 2075.6,958.7 2080.0,958.5 2084.5,958.0 2089.0,958.2 2093.5,959.1 2098.0,960.2 2102.4,961.2 2106.9,961.9 2111.4,962.9 2115.9,963.7 2120.4,963.8 2124.8,963.2 2129.3,962.8 2133.8,963.3 2138.3,963.4 2142.8,962.5 2147.2,961.5 2151.7,961.4 2156.2,962.0 2160.7,962.9 2165.2,963.8 2169.6,964.3 2174.1,964.7 2178.6,964.7 2183.1,964.2 2187.6,964.0 2192.0,964.5 2196.5,965.2 2201.0,965.7 2205.5,966.1 2210.0,966.5 2214.4,966.8 2218.9,966.7 2223.4,966.7 2227.9,966.4 2232.4,965.1 2236.8,963.7 2241.3,963.4 2245.8,964.0 2250.3,964.2 2254.8,964.1 2259.2,964.7 2263.7,965.6 2268.2,965.7 2272.7,965.2 2277.2,964.6 2281.6,964.5 2286.1,965.0 2290.6,965.9 2295.1,966.6 2299.6,966.3 2304.0,966.0 2308.5,966.0 2313.0,965.8"/>
<polyline stroke="#008000" points="1269.1,968.5 1273.6,968.5 1278.1,967.6 1282.5,966.1 1287.0,965.1 1291.5,965.7 1296.0,967.6 1300.5,969.4 1304.9,969.4 1309.4,969.1 1313.9,968.0 1318.4,967.5 1322.9,967.5 1327.3,967.1 1331.8,966.4 1336.3,966.3 1340.8,966.9 1345.3,967.6 1349.7,967.5 1354.2,967.6 1358.7,968.3 1363.2,969.4 1367.7,969.4 1372.1,968.3 1376.6,966.3 1381.1,965.2 1385.6,965.4 1390.1,966.2 1394.5,967.0 1399.0,967.6 1403.5,968.0 1408.0,967.5 1412.5,966.8 1416.9,966.8 1421.4,967.1 1425.9,967.2 1430.4,967.1 1434.9,966.8 1439.4,966.5 1443.8,966.0 1448.3,965.8 1452.8,966.2 1457.3,966.9 1461.8,966.6 1466.2,965.2 1470.7,963.7 1475.2,964.0 1479.7,965.8 1484.2,967.4 1488.6,968.2 1493.1,968.0 1497.6,967.4 1502.1,967.0 1506.6,967.4 1511.0,968.3 1515.5,968.5 1520.0,967.9 1524.5,967.3 1529.0,966.8 1533.4,966.0 1537.9,965.5 1542.4,965.8 1546.9,965.9 1551.4,963.9 1555.8,960.8 1560.3,958.7 1564.8,958.0 1569.3,957.0 1573.8,954.4 1578.2,950.4 1582.7,945.3 1587.2,939.3 1591.7,932.5 1596.2,924.8 1600.6,915.5 1605.1,904.2 1609.6,891.5 1614.1,876.9 1618.6,860.0 1623.0,840.5 1627.5,819.0 1632.0,795.5 1636.5,769.7 1641.0,740.6 1645.4,707.1 1649.9,670.0 1654.4,632.5 1658.9,596.3 1663.4,560.7 1667.8,524.7 1672.3,488.3 1676.8,450.9 1681.3,413.8 1685.8,379.8 1690.2,349.9 1694.7,324.4 1699.2,304.5 1703.7,288.7 1708.2,274.7 1712.6,264.1 1717.1,257.3 1721.6,262.0 1726.1,269.3 1730.6,280.1 1735.0,292.7 1739.5,309.7 1744.0,333.2 1748.5,357.7 1753.0,380.5 1757.5,403.8 1761.9,426.5 1766.4,448.3 1770.9,470.2 1775.4,493.2 1779.9,517.3 1784.3,541.5 1788.8,564.5 1793.3,586.6 1797.8,608.5 1802.3,631.1 1806.7,653.4 1811.2,673.3 1815.7,689.9 1820.2,703.7 1824.7,716.7 1829.1,730.2 1833.6,744.3 1838.1,757.8 1842.6,769.9 1847.1,780.6 1851.5,790.9 1856.0,801.9 1860.5,813.5 1865.0,824.9 1869.5,835.4 1873.9,844.1 1878.4,851.6 1882.9,858.9 1887.4,866.3 1891.9,873.7 1896.3,880.5 1900.8,886.7 1905.3,892.4 1909.8,897.3 1914.3,901.1 1918.7,904.3 1923.2,907.6 1927.7,911.3 1932.2,915.0 1936.7,918.3 1941.1,921.1 1945.6,923.5 1950.1,926.2 1954.6,929.4 1959.1,932.4 1963.5,934.4 1968.0,936.0 1972.5,937.5 1977.0,938.7 1981.5,939.5 1985.9,940.8 1990.4,942.5 1994.9,943.8 1999.4,944.6 2003.9,945.9 2008.3,948.3 2012.8,951.0 2017.3,953.1 2021.8,953.9 2026.3,953.9 2030.7,954.2 2035.2,955.8 2039.7,957.6 2044.2,958.7 2048.7,958.9 2053.2,958.3 2057.6,956.9 2062.1,955.4 2066.6,955.3 2071.1,957.1 2075.6,960.2 2080.0,963.1 2084.5,964.3 2089.0,963.4 2093.5,961.6 2098.0,960.4 2102.4,960.2 2106.9,960.6 2111.4,960.8 2115.9,961.0 2120.4,961.8 2124.8,963.3 2129.3,964.3 2133.8,963.7 2138.3,962.2 2142.8,961.7 2147.2,962.9 2151.7,964.3 2156.2,964.8 2160.7,964.7 2165.2,964.6 2169.6,964.7 2174.1,964.6 2178.6,964.5 2183.1,964.5 2187.6,964.8 2192.0,965.4 2196.5,965.8 2201.0,965.6 2205.5,965.4 2210.0,965.4 2214.4,966.1 2218.9,966.8 2223.4,967.0 2227.9,966.8 2232.4,966.2 2236.8,966.1 2241.3,966.9 2245.8,967.9 2250.3,968.5 2254.8,968.5 2259.2,968.2 2263.7,967.7 2268.2,966.9 2272.7,966.5 2277.2,966.6 2281.6,966.8 2286.1,967.1 2290.6,967.2 2295.1,966.9 2299.6,966.6 2304.0,967.0 2308.5,967.7 2313.0,967.8"/>
<polyline stroke="#000080" points="1269.1,965.8 1273.6,965.4 1278.1,965.8 1282.5,966.1 1287.0,965.6 1291.5,965.5 1296.0,966.5 1300.5,967.5 1304.9,968.2 1309.4,968.2 1313.9,967.9 1318.4,967.2 1322.9,965.8 1327.3,964.2 1331.8,963.3 1336.3,963.9 1340.8,965.8 1345.3,967.6 1349.7,968.5 1354.2,968.8 1358.7,968.8 1363.2,968.7 1367.7,968.5 1372.1,968.5 1376.6,969.0 1381.1,969.4 1385.6,968.7 1390.1,967.4 1394.5,966.0 1399.0,965.3 1403.5,965.5 1408.0,966.2 1412.5,966.7 1416.9,966.1 1421.4,965.1 1425.9,965.2 1430.4,966.5 1434.9,967.8 1439.4,968.6 1443.8,968.7 1448.3,968.1 1452.8,967.2 1457.3,966.6 1461.8,966.7 1466.2,966.9 1470.7,967.1 1475.2,967.5 1479.7,967.7 1484.2,967.7 1488.6,967.3 1493.1,966.5 1497.6,965.7 1502.1,965.3 1506.6,965.7 1511.0,966.4 1515.5,967.4 1520.0,968.1 1524.5,967.9 1529.0,967.0 1533.4,966.2 1537.9,965.7 1542.4,965.4 1546.9,964.7 1551.4,963.7 1555.8,962.7 1560.3,961.7 1564.8,960.0 1569.3,957.5 1573.8,954.9 1578.2,952.9 1582.7,950.5 1587.2,946.1 1591.7,939.5 1596.2,931.7 1600.6,923.3 1605.1,913.7 1609.6,901.7 1614.1,887.9 1618.6,872.7 1623.0,855.4 1627.5,835.4 1632.0,813.2 1636.5,789.6 1641.0,764.4 1645.4,737.1 1649.9,707.0 1654.4,675.0 1658.9,642.4 1663.4,610.2 1667.8,578.0 1672.3,545.6 1676.8,513.3 1681.3,480.9 1685.8,449.8 1690.2,420.7 1694.7,394.3 1699.2,371.6 1703.7,353.0 1708.2,338.7 1712.6,329.1 1717.1,326.0 1721.6,336.1 1726.1,348.0 1730.6,360.3 1735.0,373.2 1739.5,389.8 1744.0,409.9 1748.5,430.7 1753.0,451.1 1757.5,473.1 1761.9,496.9 1766.4,521.6 1770.9,544.8 1775.4,565.8 1779.9,585.1 1784.3,602.9 1788.8,620.0 1793.3,637.1 1797.8,654.3 1802.3,671.9 1806.7,689.3 1811.2,705.2 1815.7,719.2 1820.2,731.4 1824.7,743.1 1829.1,755.8 1833.6,768.4 1838.1,779.9 1842.6,790.0 1847.1,799.7 1851.5,809.5 1856.0,819.2 1860.5,828.9 1865.0,838.1 1869.5,846.5 1873.9,854.2 1878.4,861.9 1882.9,869.3 1887.4,875.5 1891.9,881.4 1896.3,887.4 1900.8,892.8 1905.3,897.2 1909.8,901.2 1914.3,905.3 1918.7,909.0 1923.2,911.9 1927.7,915.7 1932.2,920.7 1936.7,925.3 1941.1,928.1 1945.6,929.4 1950.1,930.6 1954.6,932.5 1959.1,935.0 1963.5,937.6 1968.0,939.9 1972.5,941.6 1977.0,942.5 1981.5,942.5 1985.9,942.8 1990.4,944.7 1994.9,947.7 1999.4,950.3 2003.9,952.0 2008.3,953.2 2012.8,953.8 2017.3,953.8 2021.8,954.1 2026.3,955.4 2030.7,957.2 2035.2,958.5 2039.7,958.8 2044.2,958.4 2048.7,957.9 2053.2,957.9 2057.6,958.1 2062.1,958.5 2066.6,959.4 2071.1,961.2 2075.6,962.7 2080.0,962.3 2084.5,960.9 2089.0,959.9 2093.5,960.3 2098.0,961.3 2102.4,962.5 2106.9,963.1 2111.4,962.9 2115.9,962.4 2120.4,962.6 2124.8,963.2 2129.3,963.5 2133.8,963.5 2138.3,963.6 2142.8,963.4 2147.2,963.2 2151.7,963.1 2156.2,963.0 2160.7,962.9 2165.2,963.1 2169.6,964.1 2174.1,965.3 2178.6,966.6 2183.1,967.5 2187.6,967.5 2192.0,967.0 2196.5,966.6 2201.0,966.7 2205.5,967.0 2210.0,967.0 2214.4,966.5 2218.9,965.3 2223.4,964.3 2227.9,963.9 2232.4,964.3 2236.8,965.2 2241.3,965.7 2245.8,966.0 2250.3,966.3 2254.8,966.7 2259.2,966.8 2263.7,966.6 2268.2,966.4 2272.7,966.7 2277.2,967.1 2281.6,967.4 2286.1,967.9 2290.6,967.9 2295.1,967.8 2299.6,968.1 2304.0,968.5 2308.5,968.6 2313.0,967.7"/>
<polyline stroke="#8000ff" points="1269.1,965.1 1273.6,965.7 1278.1,966.4 1282.5,966.4 1287.0,965.9 1291.5,965.6 1296.0,965.8 1300.5,966.7 1304.9,968.0 1309.4,968.7 1313.9,968.2 1318.4,966.5 1322.9,965.1 1327.3,964.7 1331.8,964.8 1336.3,964.6 1340.8,964.5 1345.3,965.3 1349.7,966.5 1354.2,967.3 1358.7,967.6 1363.2,967.1 1367.7,966.5 1372.1,965.7 1376.6,965.2 1381.1,965.4 1385.6,966.1 1390.1,967.1 1394.5,967.7 1399.0,967.4 1403.5,966.6 1408.0,965.5 1412.5,964.7 1416.9,964.9 1421.4,966.1 1425.9,967.5 1430.4,968.4 1434.9,968.3 1439.4,967.4 1443.8,966.2 1448.3,965.2 1452.8,964.5 1457.3,964.5 1461.8,965.0 1466.2,965.6 1470.7,965.7 1475.2,965.6 1479.7,965.9 1484.2,965.8 1488.6,964.9 1493.1,964.4 1497.6,965.4 1502.1,967.3 1506.6,968.3 1511.0,967.7 1515.5,966.6 1520.0,965.5 1524.5,964.1 1529.0,963.0 1533.4,963.0 1537.9,963.7 1542.4,964.1 1546.9,963.6 1551.4,963.1 1555.8,962.4 1560.3,960.9 1564.8,959.1 1569.3,957.3 1573.8,955.1 1578.2,952.3 1582.7,949.0 1587.2,945.0 1591.7,939.6 1596.2,933.3 1600.6,926.7 1605.1,919.6 1609.6,910.8 1614.1,899.7 1618.6,885.8 1623.0,869.7 1627.5,851.3 1632.0,830.5 1636.5,807.2 1641.0,782.5 1645.4,756.8 1649.9,729.9 1654.4,701.4 1658.9,671.3 1663.4,639.1 1667.8,605.6 1672.3,572.0 1676.8,538.6 1681.3,506.0 1685.8,475.5 1690.2,447.9 1694.7,423.3 1699.2,401.7 1703.7,383.2 1708.2,367.6 1712.6,356.9 1717.1,353.4 1721.6,359.6 1726.1,370.8 1730.6,381.8 1735.0,391.3 1739.5,401.1 1744.0,415.4 1748.5,434.6 1753.0,454.8 1757.5,476.6 1761.9,500.4 1766.4,524.7 1770.9,548.0 1775.4,569.8 1779.9,589.9 1784.3,608.8 1788.8,627.0 1793.3,644.1 1797.8,660.1 1802.3,675.9 1806.7,691.2 1811.2,704.6 1815.7,717.0 1820.2,729.5 1824.7,741.4 1829.1,753.2 1833.6,765.5 1838.1,778.4 1842.6,790.7 1847.1,801.1 1851.5,809.6 1856.0,817.7 1860.5,826.8 1865.0,836.5 1869.5,845.8 1873.9,854.0 1878.4,861.2 1882.9,868.1 1887.4,875.4 1891.9,882.6 1896.3,889.1 1900.8,894.4 1905.3,898.5 1909.8,901.5 1914.3,904.1 1918.7,907.3 1923.2,911.7 1927.7,916.3 1932.2,919.7 1936.7,921.7 1941.1,923.5 1945.6,926.0 1950.1,929.5 1954.6,933.6 1959.1,937.1 1963.5,939.3 1968.0,940.1 1972.5,940.8 1977.0,942.1 1981.5,943.5 1985.9,944.5 1990.4,945.9 1994.9,947.9 1999.4,949.9 2003.9,951.2 2008.3,951.8 2012.8,951.9 2017.3,951.9 2021.8,953.0 2026.3,954.8 2030.7,956.1 2035.2,956.6 2039.7,957.1 2044.2,957.7 2048.7,957.9 2053.2,958.2 2057.6,958.8 2062.1,959.5 2066.6,959.9 2071.1,959.9 2075.6,959.8 2080.0,959.9 2084.5,960.3 2089.0,961.2 2093.5,962.5 2098.0,963.7 2102.4,964.4 2106.9,964.3 2111.4,964.2 2115.9,964.4 2120.4,964.2 2124.8,964.0 2129.3,963.9 2133.8,963.8 2138.3,963.5 2142.8,963.2 2147.2,963.3 2151.7,963.7 2156.2,963.8 2160.7,963.8 2165.2,964.0 2169.6,964.5 2174.1,965.1 2178.6,965.5 2183.1,965.7 2187.6,965.3 2192.0,964.1 2196.5,963.9 2201.0,964.7 2205.5,965.4 2210.0,965.7 2214.4,966.1 2218.9,966.5 2223.4,966.3 2227.9,965.5 2232.4,964.6 2236.8,964.1 2241.3,964.2 2245.8,965.1 2250.3,966.4 2254.8,967.2 2259.2,967.2 2263.7,966.9 2268.2,967.0 2272.7,967.0 2277.2,965.9 2281.6,964.5 2286.1,964.2 2290.6,965.1 2295.1,966.1 2299.6,965.9 2304.0,965.5 2308.5,965.7 2313.0,966.3"/>
<polyline stroke="#800080" points="1269.1,967.5 1273.6,967.7 1278.1,967.1 1282.5,966.7 1287.0,967.0 1291.5,967.4 1296.0,967.3 1300.5,966.8 1304.9,966.5 1309.4,966.6 1313.9,966.9 1318.4,967.0 1322.9,966.4 1327.3,965.5 1331.8,964.8 1336.3,964.8 1340.8,965.8 1345.3,967.3 1349.7,968.1 1354.2,967.9 1358.7,967.1 1363.2,967.2 1367.7,968.1 1372.1,968.4 1376.6,967.5 1381.1,966.2 1385.6,966.0 1390.1,966.6 1394.5,967.0 1399.0,966.5 1403.5,965.6 1408.0,965.5 1412.5,966.1 1416.9,966.2 1421.4,965.8 1425.9,965.6 1430.4,965.9 1434.9,966.0 1439.4,965.6 1443.8,966.0 1448.3,967.2 1452.8,967.6 1457.3,966.5 1461.8,964.5 1466.2,963.2 1470.7,963.6 1475.2,965.0 1479.7,966.6 1484.2,967.6 1488.6,968.0 1493.1,968.5 1497.6,969.1 1502.1,969.1 1506.6,967.7 1511.0,965.4 1515.5,964.2 1520.0,964.6 1524.5,965.8 1529.0,966.9 1533.4,967.6 1537.9,967.8 1542.4,966.6 1546.9,965.0 1551.4,964.1 1555.8,963.6 1560.3,962.4 1564.8,960.1 1569.3,958.2 1573.8,956.8 1578.2,954.8 1582.7,951.3 1587.2,946.4 1591.7,941.1 1596.2,935.1 1600.6,927.5 1605.1,917.8 1609.6,906.4 1614.1,893.6 1618.6,878.6 1623.0,861.5 1627.5,842.3 1632.0,821.5 1636.5,799.6 1641.0,776.0 1645.4,749.8 1649.9,721.0 1654.4,690.6 1658.9,660.1 1663.4,630.5 1667.8,600.4 1672.3,567.8 1676.8,533.3 1681.3,499.3 1685.8,468.3 1690.2,441.3 1694.7,417.4 1699.2,396.2 1703.7,379.2 1708.2,368.4 1712.6,364.2 1717.1,365.1 1721.6,373.5 1726.1,382.2 1730.6,388.8 1735.0,394.0 1739.5,403.1 1744.0,419.7 1748.5,441.6 1753.0,463.7 1757.5,485.6 1761.9,507.3 1766.4,529.1 1770.9,550.7 1775.4,571.6 1779.9,591.4 1784.3,609.1 1788.8,624.9 1793.3,641.2 1797.8,658.6 1802.3,677.2 1806.7,695.8 1811.2,712.7 1815.7,727.0 1820.2,738.7 1824.7,749.2 1829.1,759.9 1833.6,771.2 1838.1,783.2 1842.6,795.2 1847.1,805.8 1851.5,814.4 1856.0,821.8 1860.5,829.6 1865.0,837.8 1869.5,845.8 1873.9,853.4 1878.4,861.0 1882.9,869.1 1887.4,876.9 1891.9,883.3 1896.3,888.6 1900.8,893.2 1905.3,897.5 1909.8,901.5 1914.3,905.5 1918.7,909.4 1923.2,912.5 1927.7,915.7 1932.2,919.9 1936.7,924.1 1941.1,926.9 1945.6,928.2 1950.1,929.9 1954.6,932.4 1959.1,935.0 1963.5,937.0 1968.0,938.8 1972.5,941.0 1977.0,943.2 1981.5,944.7 1985.9,946.0 1990.4,947.7 1994.9,949.1 1999.4,949.9 2003.9,950.2 2008.3,950.5 2012.8,950.7 2017.3,951.2 2021.8,952.7 2026.3,954.8 2030.7,956.3 2035.2,956.5 2039.7,955.9 2044.2,955.6 2048.7,956.8 2053.2,958.7 2057.6,959.5 2062.1,959.4 2066.6,959.2 2071.1,959.6 2075.6,959.9 2080.0,960.3 2084.5,961.1 2089.0,961.8 2093.5,962.2 2098.0,962.1 2102.4,961.6 2106.9,961.0 2111.4,961.6 2115.9,963.4 2120.4,964.5 2124.8,964.2 2129.3,963.8 2133.8,964.4 2138.3,965.7 2142.8,966.3 2147.2,965.8 2151.7,964.5 2156.2,963.6 2160.7,963.8 2165.2,964.4 2169.6,964.8 2174.1,965.0 2178.6,964.9 2183.1,964.3 2187.6,963.6 2192.0,963.6 2196.5,964.6 2201.0,965.8 2205.5,966.9 2210.0,967.1 2214.4,965.8 2218.9,963.8 2223.4,962.7 2227.9,963.2 2232.4,964.5 2236.8,965.9 2241.3,966.6 2245.8,966.6 2250.3,966.4 2254.8,966.4 2259.2,967.1 2263.7,968.3 2268.2,969.4 2272.7,969.4 2277.2,969.4 2281.6,968.4 2286.1,967.1 2290.6,966.2 2295.1,965.5 2299.6,965.1 2304.0,965.1 2308.5,965.4 2313.0,965.6"/>
<polyline stroke="#800000" points="1269.1,966.6 1273.6,965.8 1278.1,964.9 1282.5,964.7 1287.0,965.3 1291.5,966.6 1296.0,967.4 1300.5,967.5 1304.9,967.2 1309.4,966.7 1313.9,966.1 1318.4,965.6 1322.9,966.0 1327.3,966.8 1331.8,966.9 1336.3,966.1 1340.8,965.3 1345.3,965.0 1349.7,964.9 1354.2,964.5 1358.7,964.3 1363.2,964.7 1367.7,965.8 1372.1,966.7 1376.6,966.9 1381.1,966.9 1385.6,966.9 1390.1,966.4 1394.5,965.9 1399.0,966.4 1403.5,967.4 1408.0,967.8 1412.5,967.2 1416.9,966.5 1421.4,966.4 1425.9,966.6 1430.4,966.4 1434.9,965.9 1439.4,965.9 1443.8,966.7 1448.3,967.7 1452.8,967.7 1457.3,967.1 1461.8,966.4 1466.2,966.5 1470.7,967.8 1475.2,969.4 1479.7,969.4 1484.2,969.4 1488.6,968.5 1493.1,967.5 1497.6,966.9 1502.1,966.5 1506.6,966.8 1511.0,967.7 1515.5,968.2 1520.0,967.7 1524.5,967.2 1529.0,967.0 1533.4,966.2 1537.9,965.0 1542.4,964.6 1546.9,964.7 1551.4,963.8 1555.8,962.1 1560.3,960.9 1564.8,959.8 1569.3,957.9 1573.8,954.8 1578.2,951.3 1582.7,948.2 1587.2,944.9 1591.7,939.8 1596.2,932.0 1600.6,923.0 1605.1,913.4 1609.6,902.7 1614.1,890.3 1618.6,876.3 1623.0,860.5 1627.5,842.3 1632.0,821.6 1636.5,798.2 1641.0,772.9 1645.4,746.9 1649.9,720.4 1654.4,692.4 1658.9,662.4 1663.4,631.2 1667.8,600.4 1672.3,570.3 1676.8,540.9 1681.3,511.6 1685.8,482.3 1690.2,454.4 1694.7,429.5 1699.2,408.4 1703.7,392.0 1708.2,380.8 1712.6,374.1 1717.1,371.8 1721.6,378.8 1726.1,390.1 1730.6,404.5 1735.0,419.5 1739.5,435.9 1744.0,453.3 1748.5,470.8 1753.0,488.7 1757.5,508.6 1761.9,529.6 1766.4,551.5 1770.9,572.7 1775.4,592.1 1779.9,610.7 1784.3,628.4 1788.8,645.6 1793.3,663.0 1797.8,679.8 1802.3,695.6 1806.7,710.2 1811.2,723.6 1815.7,735.8 1820.2,747.2 1824.7,758.7 1829.1,770.7 1833.6,782.3 1838.1,793.1 1842.6,803.2 1847.1,812.2 1851.5,820.4 1856.0,828.4 1860.5,837.2 1865.0,846.6 1869.5,856.1 1873.9,864.8 1878.4,872.0 1882.9,877.9 1887.4,883.4 1891.9,888.9 1896.3,894.1 1900.8,898.2 1905.3,901.6 1909.8,905.2 1914.3,909.4 1918.7,913.9 1923.2,917.8 1927.7,920.7 1932.2,923.2 1936.7,925.3 1941.1,927.2 1945.6,929.3 1950.1,931.6 1954.6,933.9 1959.1,935.9 1963.5,938.5 1968.0,941.1 1972.5,942.6 1977.0,943.4 1981.5,944.6 1985.9,945.9 1990.4,946.9 1994.9,947.7 1999.4,949.4 2003.9,951.3 2008.3,952.4 2012.8,952.7 2017.3,953.4 2021.8,954.8 2026.3,956.6 2030.7,958.2 2035.2,959.0 2039.7,959.1 2044.2,958.9 2048.7,959.3 2053.2,960.1 2057.6,961.1 2062.1,961.6 2066.6,961.5 2071.1,961.1 2075.6,961.2 2080.0,961.8 2084.5,962.6 2089.0,963.5 2093.5,964.1 2098.0,964.0 2102.4,963.3 2106.9,962.7 2111.4,962.6 2115.9,962.7 2120.4,962.7 2124.8,962.6 2129.3,962.7 2133.8,963.2 2138.3,963.8 2142.8,964.4 2147.2,964.6 2151.7,964.4 2156.2,963.8 2160.7,963.5 2165.2,964.2 2169.6,965.6 2174.1,966.6 2178.6,966.3 2183.1,965.4 2187.6,965.1 2192.0,965.4 2196.5,965.6 2201.0,965.8 2205.5,965.7 2210.0,964.9 2214.4,963.8 2218.9,963.5 2223.4,964.5 2227.9,965.8 2232.4,966.5 2236.8,966.4 2241.3,966.2 2245.8,966.5 2250.3,966.9 2254.8,967.0 2259.2,966.4 2263.7,965.6 2268.2,965.5 2272.7,966.8 2277.2,968.6 2281.6,969.4 2286.1,969.4 2290.6,968.3 2295.1,967.2 2299.6,966.8 2304.0,967.1 2308.5,967.8 2313.0,968.7"/>
<polyline stroke="#808000" points="1269.1,968.4 1273.6,969.4 1278.1,969.4 1282.5,969.0 1287.0,967.7 1291.5,967.6 1296.0,968.0 1300.5,967.9 1304.9,967.2 1309.4,967.3 1313.9,967.9 1318.4,967.8 1322.9,966.9 1327.3,965.7 1331.8,965.3 1336.3,965.7 1340.8,966.2 1345.3,966.4 1349.7,966.3 1354.2,966.3 1358.7,966.8 1363.2,967.2 1367.7,966.8 1372.1,966.1 1376.6,965.4 1381.1,965.4 1385.6,966.2 1390.1,966.9 1394.5,966.8 1399.0,966.6 1403.5,967.0 1408.0,967.2 1412.5,966.8 1416.9,966.6 1421.4,967.1 1425.9,967.9 1430.4,968.5 1434.9,968.8 1439.4,968.7 1443.8,968.5 1448.3,968.7 1452.8,968.7 1457.3,968.3 1461.8,967.5 1466.2,966.8 1470.7,966.9 1475.2,968.0 1479.7,969.1 1484.2,968.9 1488.6,967.1 1493.1,965.7 1497.6,965.5 1502.1,966.2 1506.6,966.8 1511.0,966.8 1515.5,966.6 1520.0,966.0 1524.5,965.7 1529.0,965.7 1533.4,966.0 1537.9,966.5 1542.4,966.3 1546.9,964.4 1551.4,961.3 1555.8,959.4 1560.3,959.7 1564.8,960.7 1569.3,960.3 1573.8,958.9 1578.2,956.6 1582.7,953.4 1587.2,948.8 1591.7,942.6 1596.2,935.9 1600.6,929.0 1605.1,921.9 1609.6,913.3 1614.1,902.1 1618.6,887.8 1623.0,871.0 1627.5,852.6 1632.0,833.3 1636.5,812.6 1641.0,790.0 1645.4,764.8 1649.9,736.6 1654.4,706.6 1658.9,676.4 1663.4,646.5 1667.8,616.5 1672.3,584.9 1676.8,551.7 1681.3,519.3 1685.8,489.5 1690.2,462.8 1694.7,440.2 1699.2,420.9 1703.7,404.1 1708.2,391.0 1712.6,383.1 1717.1,380.7 1721.6,387.6 1726.1,399.7 1730.6,411.0 1735.0,421.3 1739.5,433.3 1744.0,449.7 1748.5,470.2 1753.0,491.2 1757.5,511.0 1761.9,528.9 1766.4,545.8 1770.9,563.2 1775.4,582.3 1779.9,603.2 1784.3,624.2 1788.8,643.1 1793.3,659.7 1797.8,675.0 1802.3,690.1 1806.7,704.9 1811.2,718.5 1815.7,731.2 1820.2,744.1 1824.7,757.2 1829.1,769.5 1833.6,780.5 1838.1,790.6 1842.6,800.1 1847.1,809.4 1851.5,818.1 1856.0,826.1 1860.5,834.1 1865.0,843.1 1869.5,852.5 1873.9,860.9 1878.4,867.9 1882.9,874.3 1887.4,880.7 1891.9,887.0 1896.3,892.4 1900.8,896.4 1905.3,899.7 1909.8,903.4 1914.3,907.4 1918.7,910.8 1923.2,913.7 1927.7,917.0 1932.2,920.5 1936.7,923.2 1941.1,925.1 1945.6,927.2 1950.1,930.0 1954.6,933.1 1959.1,936.2 1963.5,938.9 1968.0,941.0 1972.5,942.4 1977.0,943.3 1981.5,944.1 1985.9,945.2 1990.4,946.4 1994.9,947.7 1999.4,948.7 2003.9,949.4 2008.3,950.5 2012.8,952.1 2017.3,953.3 2021.8,953.3 2026.3,953.4 2030.7,954.7 2035.2,956.8 2039.7,958.5 2044.2,958.9 2048.7,958.3 2053.2,957.8 2057.6,958.2 2062.1,959.0 2066.6,959.8 2071.1,960.3 2075.6,961.1 2080.0,961.9 2084.5,961.9 2089.0,961.8 2093.5,962.1 2098.0,962.3 2102.4,962.2 2106.9,961.6 2111.4,961.2 2115.9,961.1 2120.4,961.3 2124.8,961.6 2129.3,962.5 2133.8,963.5 2138.3,964.0 2142.8,963.4 2147.2,962.7 2151.7,963.6 2156.2,964.9 2160.7,965.5 2165.2,965.6 2169.6,965.3 2174.1,964.4 2178.6,963.3 2183.1,963.3 2187.6,963.8 2192.0,963.8 2196.5,963.5 2201.0,963.8 2205.5,964.9 2210.0,966.0 2214.4,966.7 2218.9,966.5 2223.4,965.6 2227.9,964.6 2232.4,965.2 2236.8,967.0 2241.3,968.4 2245.8,968.1 2250.3,966.7 2254.8,966.3 2259.2,966.5 2263.7,966.4 2268.2,966.2 2272.7,966.1 2277.2,966.7 2281.6,967.2 2286.1,967.5 2290.6,968.3 2295.1,968.8 2299.6,968.7 2304.0,967.7 2308.5,966.7 2313.0,966.6"/>
<polyline stroke="#1f5fa8" points="1269.1,966.5 1273.6,965.9 1278.1,965.0 1282.5,964.7 1287.0,965.1 1291.5,966.2 1296.0,967.2 1300.5,967.7 1304.9,968.2 1309.4,968.2 1313.9,967.5 1318.4,966.9 1322.9,967.0 1327.3,967.6 1331.8,967.9 1336.3,967.8 1340.8,968.1 1345.3,968.3 1349.7,968.4 1354.2,967.9 1358.7,967.1 1363.2,966.5 1367.7,966.2 1372.1,966.7 1376.6,967.5 1381.1,967.4 1385.6,966.9 1390.1,966.3 1394.5,965.6 1399.0,965.0 1403.5,964.6 1408.0,965.0 1412.5,966.1 1416.9,966.9 1421.4,967.2 1425.9,967.1 1430.4,966.8 1434.9,966.4 1439.4,966.2 1443.8,966.7 1448.3,967.2 1452.8,967.1 1457.3,966.9 1461.8,967.3 1466.2,967.9 1470.7,967.9 1475.2,968.1 1479.7,968.8 1484.2,969.4 1488.6,969.4 1493.1,968.3 1497.6,967.5 1502.1,967.3 1506.6,967.1 1511.0,966.0 1515.5,964.7 1520.0,964.0 1524.5,964.6 1529.0,965.6 1533.4,966.3 1537.9,966.0 1542.4,965.4 1546.9,965.6 1551.4,966.1 1555.8,966.3 1560.3,965.5 1564.8,963.9 1569.3,962.0 1573.8,959.6 1578.2,956.3 1582.7,952.1 1587.2,947.7 1591.7,943.0 1596.2,937.2 1600.6,929.8 1605.1,921.2 1609.6,910.9 1614.1,898.4 1618.6,884.2 1623.0,868.7 1627.5,850.9 1632.0,831.2 1636.5,810.4 1641.0,788.0 1645.4,763.7 1649.9,737.6 1654.4,710.3 1658.9,682.0 1663.4,653.3 1667.8,624.1 1672.3,594.1 1676.8,563.5 1681.3,533.5 1685.8,504.9 1690.2,479.4 1694.7,457.6 1699.2,439.2 1703.7,424.0 1708.2,412.7 1712.6,405.2 1717.1,402.3 1721.6,409.4 1726.1,420.0 1730.6,431.4 1735.0,442.3 1739.5,455.7 1744.0,473.1 1748.5,492.8 1753.0,513.3 1757.5,534.9 1761.9,556.2 1766.4,576.3 1770.9,594.0 1775.4,609.9 1779.9,625.1 1784.3,640.6 1788.8,657.3 1793.3,675.2 1797.8,692.5 1802.3,707.6 1806.7,720.2 1811.2,731.1 1815.7,741.9 1820.2,753.6 1824.7,765.1 1829.1,775.9 1833.6,786.1 1838.1,796.5 1842.6,806.8 1847.1,816.0 1851.5,824.5 1856.0,832.7 1860.5,841.2 1865.0,849.6 1869.5,857.1 1873.9,863.3 1878.4,869.3 1882.9,876.0 1887.4,882.6 1891.9,888.1 1896.3,892.5 1900.8,896.6 1905.3,900.6 1909.8,904.2 1914.3,907.6 1918.7,910.7 1923.2,913.8 1927.7,917.1 1932.2,920.7 1936.7,924.4 1941.1,927.8 1945.6,931.1 1950.1,933.7 1954.6,935.5 1959.1,936.9 1963.5,938.2 1968.0,940.1 1972.5,942.8 1977.0,945.5 1981.5,947.5 1985.9,948.4 1990.4,949.3 1994.9,949.8 1999.4,950.1 2003.9,951.2 2008.3,952.5 2012.8,954.1 2017.3,955.3 2021.8,956.0 2026.3,956.4 2030.7,956.8 2035.2,957.1 2039.7,956.7 2044.2,956.8 2048.7,958.5 2053.2,960.8 2057.6,961.8 2062.1,961.5 2066.6,961.4 2071.1,961.7 2075.6,961.9 2080.0,962.2 2084.5,963.0 2089.0,963.8 2093.5,963.9 2098.0,963.0 2102.4,962.3 2106.9,962.4 2111.4,962.9 2115.9,962.9 2120.4,962.3 2124.8,962.2 2129.3,962.7 2133.8,963.4 2138.3,964.0 2142.8,964.4 2147.2,964.8 2151.7,964.8 2156.2,964.5 2160.7,963.9 2165.2,963.4 2169.6,963.6 2174.1,964.0 2178.6,964.0 2183.1,964.2 2187.6,964.7 2192.0,965.1 2196.5,964.9 2201.0,964.7 2205.5,964.8 2210.0,964.7 2214.4,964.4 2218.9,964.6 2223.4,965.3 2227.9,966.0 2232.4,966.5 2236.8,966.9 2241.3,967.2 2245.8,966.6 2250.3,965.2 2254.8,963.6 2259.2,963.4 2263.7,964.5 2268.2,965.5 2272.7,966.2 2277.2,966.2 2281.6,966.0 2286.1,965.9 2290.6,966.0 2295.1,966.3 2299.6,966.6 2304.0,967.1 2308.5,967.4 2313.0,967.1"/>
<polyline stroke="#1a9494" points="1269.1,967.0 1273.6,966.6 1278.1,966.6 1282.5,966.4 1287.0,966.0 1291.5,965.5 1296.0,965.4 1300.5,965.9 1304.9,966.1 1309.4,966.5 1313.9,967.1 1318.4,967.3 1322.9,967.2 1327.3,967.0 1331.8,967.2 1336.3,967.7 1340.8,968.0 1345.3,968.3 1349.7,968.6 1354.2,968.3 1358.7,967.6 1363.2,967.3 1367.7,967.7 1372.1,968.0 1376.6,967.6 1381.1,966.6 1385.6,965.9 1390.1,966.1 1394.5,966.7 1399.0,967.0 1403.5,966.5 1408.0,966.0 1412.5,966.6 1416.9,967.4 1421.4,967.2 1425.9,965.9 1430.4,965.2 1434.9,965.7 1439.4,966.8 1443.8,967.6 1448.3,968.0 1452.8,968.0 1457.3,968.0 1461.8,968.3 1466.2,968.4 1470.7,967.8 1475.2,967.1 1479.7,967.3 1484.2,968.2 1488.6,968.6 1493.1,968.4 1497.6,968.4 1502.1,968.7 1506.6,968.6 1511.0,967.9 1515.5,967.2 1520.0,966.7 1524.5,966.4 1529.0,966.5 1533.4,966.9 1537.9,967.1 1542.4,966.5 1546.9,965.2 1551.4,964.3 1555.8,963.5 1560.3,962.1 1564.8,959.8 1569.3,957.4 1573.8,955.1 1578.2,952.6 1582.7,949.4 1587.2,945.2 1591.7,940.0 1596.2,933.9 1600.6,926.3 1605.1,917.1 1609.6,906.9 1614.1,895.8 1618.6,883.1 1623.0,867.7 1627.5,850.2 1632.0,831.5 1636.5,811.0 1641.0,788.2 1645.4,763.1 1649.9,735.7 1654.4,705.9 1658.9,674.1 1663.4,641.4 1667.8,610.1 1672.3,581.7 1676.8,555.7 1681.3,531.0 1685.8,507.3 1690.2,484.7 1694.7,462.8 1699.2,441.8 1703.7,423.0 1708.2,409.4 1712.6,403.6 1717.1,405.3 1721.6,414.9 1726.1,424.6 1730.6,434.3 1735.0,445.3 1739.5,460.8 1744.0,479.9 1748.5,499.3 1753.0,517.9 1757.5,538.3 1761.9,560.0 1766.4,581.8 1770.9,601.5 1775.4,619.0 1779.9,635.7 1784.3,652.3 1788.8,668.5 1793.3,683.3 1797.8,696.7 1802.3,709.5 1806.7,722.3 1811.2,735.3 1815.7,748.3 1820.2,760.8 1824.7,772.4 1829.1,782.9 1833.6,792.3 1838.1,801.2 1842.6,810.6 1847.1,820.5 1851.5,830.7 1856.0,840.0 1860.5,848.5 1865.0,856.4 1869.5,863.7 1873.9,869.7 1878.4,874.7 1882.9,879.7 1887.4,885.0 1891.9,889.9 1896.3,894.5 1900.8,899.0 1905.3,903.0 1909.8,906.3 1914.3,909.5 1918.7,913.0 1923.2,916.5 1927.7,919.7 1932.2,923.1 1936.7,926.4 1941.1,929.0 1945.6,931.2 1950.1,933.7 1954.6,936.3 1959.1,938.3 1963.5,939.7 1968.0,941.0 1972.5,942.4 1977.0,944.0 1981.5,945.8 1985.9,947.3 1990.4,947.9 1994.9,948.0 1999.4,948.4 2003.9,949.3 2008.3,950.4 2012.8,951.5 2017.3,952.4 2021.8,953.0 2026.3,953.4 2030.7,953.8 2035.2,954.5 2039.7,955.7 2044.2,957.1 2048.7,958.2 2053.2,958.6 2057.6,958.8 2062.1,959.1 2066.6,959.3 2071.1,959.6 2075.6,960.3 2080.0,961.1 2084.5,961.5 2089.0,961.9 2093.5,962.7 2098.0,963.4 2102.4,963.7 2106.9,963.4 2111.4,962.5 2115.9,961.4 2120.4,960.8 2124.8,960.9 2129.3,961.3 2133.8,961.8 2138.3,962.6 2142.8,963.3 2147.2,963.9 2151.7,964.4 2156.2,965.0 2160.7,965.7 2165.2,966.1 2169.6,966.4 2174.1,966.2 2178.6,965.8 2183.1,965.4 2187.6,965.1 2192.0,965.1 2196.5,965.4 2201.0,966.1 2205.5,967.4 2210.0,968.8 2214.4,969.3 2218.9,968.5 2223.4,967.4 2227.9,966.5 2232.4,965.9 2236.8,965.3 2241.3,964.6 2245.8,964.0 2250.3,963.4 2254.8,963.1 2259.2,963.8 2263.7,965.0 2268.2,966.2 2272.7,967.1 2277.2,967.8 2281.6,968.1 2286.1,967.3 2290.6,966.3 2295.1,966.3 2299.6,967.0 2304.0,967.4 2308.5,967.3 2313.0,967.5"/>
<polyline stroke="#a0601a" points="1269.1,964.3 1273.6,964.6 1278.1,965.8 1282.5,967.2 1287.0,967.5 1291.5,966.8 1296.0,966.0 1300.5,965.6 1304.9,965.3 1309.4,965.0 1313.9,964.9 1318.4,965.7 1322.9,966.9 1327.3,968.0 1331.8,968.2 1336.3,967.5 1340.8,967.2 1345.3,967.6 1349.7,968.0 1354.2,967.9 1358.7,967.1 1363.2,966.1 1367.7,965.3 1372.1,965.3 1376.6,965.7 1381.1,966.1 1385.6,966.0 1390.1,966.0 1394.5,966.9 1399.0,967.8 1403.5,967.6 1408.0,966.6 1412.5,966.2 1416.9,966.4 1421.4,966.4 1425.9,966.6 1430.4,967.7 1434.9,968.8 1439.4,968.8 1443.8,968.0 1448.3,967.1 1452.8,966.1 1457.3,965.7 1461.8,966.2 1466.2,967.4 1470.7,968.1 1475.2,967.5 1479.7,966.3 1484.2,965.4 1488.6,965.5 1493.1,966.2 1497.6,966.2 1502.1,965.6 1506.6,965.3 1511.0,965.2 1515.5,965.6 1520.0,966.4 1524.5,967.9 1529.0,968.6 1533.4,967.5 1537.9,966.1 1542.4,965.3 1546.9,964.6 1551.4,963.8 1555.8,962.9 1560.3,962.0 1564.8,960.7 1569.3,958.9 1573.8,956.4 1578.2,953.9 1582.7,951.1 1587.2,947.2 1591.7,942.4 1596.2,936.8 1600.6,930.4 1605.1,922.4 1609.6,912.1 1614.1,900.2 1618.6,887.0 1623.0,871.9 1627.5,854.4 1632.0,834.3 1636.5,812.9 1641.0,791.5 1645.4,769.6 1649.9,745.5 1654.4,718.6 1658.9,689.1 1663.4,657.6 1667.8,625.3 1672.3,593.5 1676.8,563.6 1681.3,536.5 1685.8,512.2 1690.2,490.2 1694.7,469.9 1699.2,451.3 1703.7,434.3 1708.2,421.1 1712.6,414.0 1717.1,413.8 1721.6,423.3 1726.1,433.4 1730.6,443.1 1735.0,452.9 1739.5,466.7 1744.0,484.1 1748.5,502.7 1753.0,520.7 1757.5,539.8 1761.9,560.8 1766.4,583.0 1770.9,604.1 1775.4,622.9 1779.9,639.9 1784.3,655.1 1788.8,669.1 1793.3,682.6 1797.8,695.6 1802.3,708.4 1806.7,721.2 1811.2,733.9 1815.7,746.4 1820.2,758.6 1824.7,770.5 1829.1,781.9 1833.6,792.5 1838.1,802.3 1842.6,811.5 1847.1,820.6 1851.5,829.4 1856.0,837.7 1860.5,845.6 1865.0,853.5 1869.5,861.2 1873.9,868.0 1878.4,873.7 1882.9,879.1 1887.4,884.7 1891.9,890.4 1896.3,895.9 1900.8,901.0 1905.3,905.8 1909.8,909.8 1914.3,913.1 1918.7,916.2 1923.2,919.2 1927.7,921.8 1932.2,924.3 1936.7,926.8 1941.1,929.5 1945.6,932.4 1950.1,935.2 1954.6,937.1 1959.1,937.9 1963.5,938.3 1968.0,939.1 1972.5,940.6 1977.0,942.9 1981.5,945.4 1985.9,947.4 1990.4,949.1 1994.9,950.3 1999.4,951.0 2003.9,951.9 2008.3,952.9 2012.8,953.8 2017.3,954.4 2021.8,955.4 2026.3,956.8 2030.7,957.8 2035.2,958.6 2039.7,959.2 2044.2,959.6 2048.7,959.8 2053.2,960.0 2057.6,960.3 2062.1,960.7 2066.6,961.0 2071.1,961.1 2075.6,961.1 2080.0,961.4 2084.5,962.3 2089.0,963.4 2093.5,964.1 2098.0,963.8 2102.4,962.8 2106.9,962.0 2111.4,962.2 2115.9,963.4 2120.4,965.1 2124.8,966.7 2129.3,967.4 2133.8,967.2 2138.3,967.1 2142.8,967.3 2147.2,967.0 2151.7,966.6 2156.2,966.1 2160.7,965.3 2165.2,964.4 2169.6,964.1 2174.1,964.8 2178.6,965.2 2183.1,965.2 2187.6,965.9 2192.0,967.0 2196.5,967.7 2201.0,967.3 2205.5,966.4 2210.0,966.5 2214.4,967.1 2218.9,967.2 2223.4,966.2 2227.9,965.1 2232.4,964.5 2236.8,964.2 2241.3,964.5 2245.8,965.2 2250.3,965.8 2254.8,966.1 2259.2,966.6 2263.7,967.3 2268.2,968.0 2272.7,968.4 2277.2,968.8 2281.6,968.9 2286.1,968.8 2290.6,968.2 2295.1,966.7 2299.6,964.9 2304.0,964.0 2308.5,964.9 2313.0,966.2"/>
<polyline stroke="#00cc33" points="1269.1,968.9 1273.6,968.1 1278.1,967.4 1282.5,966.9 1287.0,966.5 1291.5,966.6 1296.0,967.6 1300.5,968.6 1304.9,968.3 1309.4,966.9 1313.9,965.9 1318.4,966.1 1322.9,966.7 1327.3,966.7 1331.8,966.3 1336.3,966.7 1340.8,967.9 1345.3,968.5 1349.7,967.8 1354.2,966.6 1358.7,966.2 1363.2,967.0 1367.7,968.1 1372.1,968.3 1376.6,967.8 1381.1,967.2 1385.6,967.3 1390.1,967.5 1394.5,967.3 1399.0,967.1 1403.5,967.6 1408.0,968.5 1412.5,969.2 1416.9,969.1 1421.4,968.4 1425.9,967.9 1430.4,967.4 1434.9,966.7 1439.4,966.0 1443.8,966.0 1448.3,967.1 1452.8,968.2 1457.3,968.0 1461.8,967.3 1466.2,967.2 1470.7,967.5 1475.2,967.2 1479.7,966.4 1484.2,966.2 1488.6,966.7 1493.1,967.3 1497.6,967.7 1502.1,967.9 1506.6,968.4 1511.0,969.1 1515.5,968.8 1520.0,967.2 1524.5,965.0 1529.0,963.4 1533.4,963.2 1537.9,964.1 1542.4,964.8 1546.9,964.7 1551.4,964.3 1555.8,964.3 1560.3,964.0 1564.8,962.4 1569.3,959.7 1573.8,956.7 1578.2,953.3 1582.7,949.9 1587.2,947.3 1591.7,945.0 1596.2,941.4 1600.6,935.1 1605.1,927.0 1609.6,917.3 1614.1,906.3 1618.6,894.3 1623.0,881.4 1627.5,866.7 1632.0,849.7 1636.5,830.5 1641.0,809.8 1645.4,787.9 1649.9,764.8 1654.4,739.6 1658.9,712.1 1663.4,684.3 1667.8,657.6 1672.3,631.2 1676.8,604.8 1681.3,579.2 1685.8,555.1 1690.2,532.5 1694.7,511.6 1699.2,492.2 1703.7,474.7 1708.2,460.9 1712.6,452.6 1717.1,450.7 1721.6,458.2 1726.1,469.7 1730.6,479.3 1735.0,485.9 1739.5,495.3 1744.0,511.0 1748.5,530.9 1753.0,551.4 1757.5,571.1 1761.9,589.6 1766.4,608.3 1770.9,626.8 1775.4,642.7 1779.9,656.1 1784.3,668.6 1788.8,681.7 1793.3,695.4 1797.8,708.8 1802.3,721.4 1806.7,733.2 1811.2,744.5 1815.7,755.5 1820.2,766.9 1824.7,778.4 1829.1,789.5 1833.6,800.0 1838.1,809.7 1842.6,818.8 1847.1,827.9 1851.5,836.6 1856.0,845.0 1860.5,852.7 1865.0,859.7 1869.5,866.5 1873.9,873.1 1878.4,878.6 1882.9,883.0 1887.4,887.1 1891.9,891.5 1896.3,896.6 1900.8,901.6 1905.3,906.1 1909.8,910.3 1914.3,913.9 1918.7,916.7 1923.2,918.7 1927.7,920.6 1932.2,923.2 1936.7,926.3 1941.1,929.6 1945.6,932.6 1950.1,935.1 1954.6,937.2 1959.1,939.0 1963.5,940.5 1968.0,941.7 1972.5,942.6 1977.0,943.8 1981.5,945.4 1985.9,947.0 1990.4,948.0 1994.9,949.0 1999.4,950.9 2003.9,953.4 2008.3,955.8 2012.8,956.7 2017.3,955.8 2021.8,954.0 2026.3,953.0 2030.7,953.2 2035.2,954.6 2039.7,956.3 2044.2,957.4 2048.7,957.8 2053.2,958.0 2057.6,958.6 2062.1,959.9 2066.6,961.4 2071.1,962.6 2075.6,962.8 2080.0,962.3 2084.5,962.3 2089.0,963.0 2093.5,963.5 2098.0,963.3 2102.4,962.9 2106.9,962.7 2111.4,963.2 2115.9,964.4 2120.4,965.4 2124.8,965.8 2129.3,965.8 2133.8,965.6 2138.3,965.7 2142.8,965.7 2147.2,965.5 2151.7,965.6 2156.2,966.0 2160.7,966.6 2165.2,965.9 2169.6,964.6 2174.1,964.6 2178.6,965.7 2183.1,966.4 2187.6,965.9 2192.0,965.9 2196.5,966.9 2201.0,967.4 2205.5,967.2 2210.0,967.0 2214.4,967.7 2218.9,968.4 2223.4,968.2 2227.9,967.0 2232.4,965.8 2236.8,965.5 2241.3,966.0 2245.8,966.5 2250.3,966.6 2254.8,966.4 2259.2,966.2 2263.7,966.4 2268.2,966.8 2272.7,967.0 2277.2,966.9 2281.6,966.8 2286.1,966.4 2290.6,966.0 2295.1,965.8 2299.6,965.8 2304.0,966.0 2308.5,966.5 2313.0,966.7"/>
</g>
<line x1="1716.3" y1="127" x2="1716.3" y2="969.6" stroke="#111" stroke-width="4.4" stroke-dasharray="14 10.6 4 8.7 4 9.5" stroke-dashoffset="22.2" fill="none"/>
<g class="ins" font-family='"Liberation Sans", Arial, Helvetica, sans-serif' fill="#000">
<text transform="translate(1258.5 985.0) scale(0.84 1)" font-size="57" font-weight="bold" text-anchor="end">0E+00</text>
<text transform="translate(1258.5 857.8) scale(0.84 1)" font-size="57" font-weight="bold" text-anchor="end">1E-05</text>
<text transform="translate(1258.5 730.6) scale(0.84 1)" font-size="57" font-weight="bold" text-anchor="end">2E-05</text>
<text transform="translate(1258.5 603.4) scale(0.84 1)" font-size="57" font-weight="bold" text-anchor="end">3E-05</text>
<text transform="translate(1258.5 476.2) scale(0.84 1)" font-size="57" font-weight="bold" text-anchor="end">4E-05</text>
<text transform="translate(1258.5 349.0) scale(0.84 1)" font-size="57" font-weight="bold" text-anchor="end">5E-05</text>
<text transform="translate(1258.5 221.8) scale(0.84 1)" font-size="57" font-weight="bold" text-anchor="end">6E-05</text>
<text transform="translate(1258.5 94.6) scale(0.84 1)" font-size="57" font-weight="bold" text-anchor="end">7E-05</text>
<text transform="translate(1268.1 1026.0) scale(0.85 1)" font-size="56" font-weight="bold" text-anchor="middle">230</text>
<text transform="translate(1417.4 1026.0) scale(0.85 1)" font-size="56" font-weight="bold" text-anchor="middle">240</text>
<text transform="translate(1566.8 1026.0) scale(0.85 1)" font-size="56" font-weight="bold" text-anchor="middle">250</text>
<text transform="translate(1716.1 1026.0) scale(0.85 1)" font-size="56" font-weight="bold" text-anchor="middle">260</text>
<text transform="translate(1865.5 1026.0) scale(0.85 1)" font-size="56" font-weight="bold" text-anchor="middle">270</text>
<text transform="translate(2014.8 1026.0) scale(0.85 1)" font-size="56" font-weight="bold" text-anchor="middle">280</text>
<text transform="translate(2164.2 1026.0) scale(0.85 1)" font-size="56" font-weight="bold" text-anchor="middle">290</text>
<text transform="translate(2313.5 1026.0) scale(0.85 1)" font-size="56" font-weight="bold" text-anchor="middle">300</text>
<text transform="translate(1791.5 1117.3) scale(0.878 1)" font-size="75" font-weight="bold" text-anchor="middle">Wavelength (nm)</text>
<text transform="translate(1100.9 525.8) rotate(-90) scale(0.986 1)" font-size="77" font-weight="bold" text-anchor="middle">Intensity (a.u.)</text>
<line x1="2108.5" y1="112.3" x2="2198.8" y2="112.3" stroke="#000000" stroke-width="6.8" stroke-linecap="round"/>
<text transform="translate(2210.5 128.8) scale(0.86 1)" font-size="48" font-weight="bold" text-anchor="start">0h</text>
<line x1="2108.5" y1="172.8" x2="2198.8" y2="172.8" stroke="#ff0000" stroke-width="6.8" stroke-linecap="round"/>
<text transform="translate(2210.5 189.3) scale(0.86 1)" font-size="48" font-weight="bold" text-anchor="start">10h</text>
<line x1="2108.5" y1="233.3" x2="2198.8" y2="233.3" stroke="#0000ff" stroke-width="6.8" stroke-linecap="round"/>
<text transform="translate(2210.5 249.8) scale(0.86 1)" font-size="48" font-weight="bold" text-anchor="start">20h</text>
<line x1="2108.5" y1="293.8" x2="2198.8" y2="293.8" stroke="#ff00ff" stroke-width="6.8" stroke-linecap="round"/>
<text transform="translate(2210.5 310.3) scale(0.86 1)" font-size="48" font-weight="bold" text-anchor="start">30h</text>
<line x1="2108.5" y1="354.3" x2="2198.8" y2="354.3" stroke="#008000" stroke-width="6.8" stroke-linecap="round"/>
<text transform="translate(2210.5 370.8) scale(0.86 1)" font-size="48" font-weight="bold" text-anchor="start">40h</text>
<line x1="2108.5" y1="414.8" x2="2198.8" y2="414.8" stroke="#000080" stroke-width="6.8" stroke-linecap="round"/>
<text transform="translate(2210.5 431.3) scale(0.86 1)" font-size="48" font-weight="bold" text-anchor="start">50h</text>
<line x1="2108.5" y1="475.3" x2="2198.8" y2="475.3" stroke="#8000ff" stroke-width="6.8" stroke-linecap="round"/>
<text transform="translate(2210.5 491.8) scale(0.86 1)" font-size="48" font-weight="bold" text-anchor="start">60h</text>
<line x1="2108.5" y1="535.8" x2="2198.8" y2="535.8" stroke="#800080" stroke-width="6.8" stroke-linecap="round"/>
<text transform="translate(2210.5 552.3) scale(0.86 1)" font-size="48" font-weight="bold" text-anchor="start">70h</text>
<line x1="2108.5" y1="596.3" x2="2198.8" y2="596.3" stroke="#800000" stroke-width="6.8" stroke-linecap="round"/>
<text transform="translate(2210.5 612.8) scale(0.86 1)" font-size="48" font-weight="bold" text-anchor="start">80h</text>
<line x1="2108.5" y1="656.8" x2="2198.8" y2="656.8" stroke="#808000" stroke-width="6.8" stroke-linecap="round"/>
<text transform="translate(2210.5 673.3) scale(0.86 1)" font-size="48" font-weight="bold" text-anchor="start">90h</text>
<line x1="2108.5" y1="717.3" x2="2198.8" y2="717.3" stroke="#1f5fa8" stroke-width="6.8" stroke-linecap="round"/>
<text transform="translate(2210.5 733.8) scale(0.86 1)" font-size="48" font-weight="bold" text-anchor="start">100h</text>
<line x1="2108.5" y1="777.8" x2="2198.8" y2="777.8" stroke="#1a9494" stroke-width="6.8" stroke-linecap="round"/>
<text transform="translate(2210.5 794.3) scale(0.86 1)" font-size="48" font-weight="bold" text-anchor="start">110h</text>
<line x1="2108.5" y1="838.3" x2="2198.8" y2="838.3" stroke="#a0601a" stroke-width="6.8" stroke-linecap="round"/>
<text transform="translate(2210.5 854.8) scale(0.86 1)" font-size="48" font-weight="bold" text-anchor="start">130h</text>
<line x1="2108.5" y1="898.8" x2="2198.8" y2="898.8" stroke="#00cc33" stroke-width="6.8" stroke-linecap="round"/>
<text transform="translate(2210.5 915.3) scale(0.86 1)" font-size="48" font-weight="bold" text-anchor="start">150h</text>
<text class="reg" x="1416.5" y="203.5" font-size="77">260nm</text>
<text class="reg" x="1838" y="241" font-size="88">#1</text>
</g>
</svg>
</body>
</html>
